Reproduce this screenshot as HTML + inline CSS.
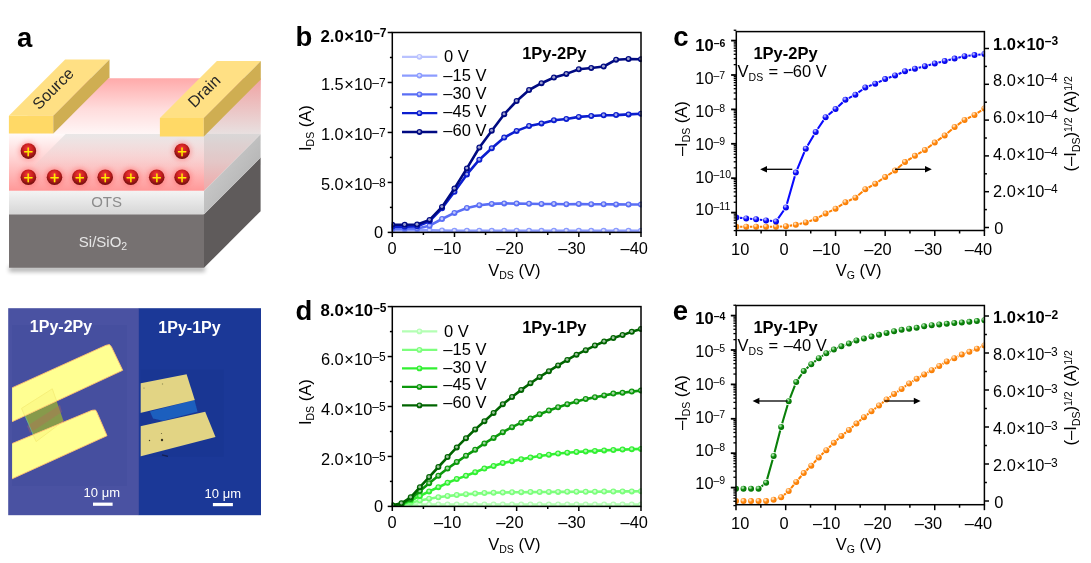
<!DOCTYPE html>
<html><head><meta charset="utf-8"><title>Figure</title>
<style>html,body{margin:0;padding:0;background:#fff;overflow:hidden}svg{display:block}</style></head>
<body>
<svg width="1091" height="563" viewBox="0 0 1091 563" font-family="'Liberation Sans', Arial, sans-serif">
<defs>
<radialGradient id="sb0" cx="0.4" cy="0.35" r="0.65" fx="0.35" fy="0.3"><stop offset="0" stop-color="#edefff"/><stop offset="0.18" stop-color="#edefff"/><stop offset="0.5" stop-color="#c3cbff"/><stop offset="1" stop-color="#a6aee5"/></radialGradient>
<radialGradient id="sb1" cx="0.4" cy="0.35" r="0.65" fx="0.35" fy="0.3"><stop offset="0" stop-color="#e2e6ff"/><stop offset="0.18" stop-color="#e2e6ff"/><stop offset="0.5" stop-color="#9daaff"/><stop offset="1" stop-color="#7e8ce5"/></radialGradient>
<radialGradient id="sb2" cx="0.4" cy="0.35" r="0.65" fx="0.35" fy="0.3"><stop offset="0" stop-color="#d5dafc"/><stop offset="0.18" stop-color="#d5dafc"/><stop offset="0.5" stop-color="#7283f6"/><stop offset="1" stop-color="#5163dc"/></radialGradient>
<radialGradient id="sb3" cx="0.4" cy="0.35" r="0.65" fx="0.35" fy="0.3"><stop offset="0" stop-color="#c2c6f3"/><stop offset="0.18" stop-color="#c2c6f3"/><stop offset="0.5" stop-color="#303fd6"/><stop offset="1" stop-color="#0a1bba"/></radialGradient>
<radialGradient id="sb4" cx="0.4" cy="0.35" r="0.65" fx="0.35" fy="0.3"><stop offset="0" stop-color="#bfc1df"/><stop offset="0.18" stop-color="#bfc1df"/><stop offset="0.5" stop-color="#262e94"/><stop offset="1" stop-color="#000975"/></radialGradient>
<radialGradient id="sg0" cx="0.4" cy="0.35" r="0.65" fx="0.35" fy="0.3"><stop offset="0" stop-color="#ecffec"/><stop offset="0.18" stop-color="#ecffec"/><stop offset="0.5" stop-color="#bfffbf"/><stop offset="1" stop-color="#a2e5a2"/></radialGradient>
<radialGradient id="sg1" cx="0.4" cy="0.35" r="0.65" fx="0.35" fy="0.3"><stop offset="0" stop-color="#deffde"/><stop offset="0.18" stop-color="#deffde"/><stop offset="0.5" stop-color="#90ff90"/><stop offset="1" stop-color="#70e570"/></radialGradient>
<radialGradient id="sg2" cx="0.4" cy="0.35" r="0.65" fx="0.35" fy="0.3"><stop offset="0" stop-color="#cbfbcb"/><stop offset="0.18" stop-color="#cbfbcb"/><stop offset="0.5" stop-color="#50f250"/><stop offset="1" stop-color="#2dd82d"/></radialGradient>
<radialGradient id="sg3" cx="0.4" cy="0.35" r="0.65" fx="0.35" fy="0.3"><stop offset="0" stop-color="#c2e5c2"/><stop offset="0.18" stop-color="#c2e5c2"/><stop offset="0.5" stop-color="#30a730"/><stop offset="1" stop-color="#0a880a"/></radialGradient>
<radialGradient id="sg4" cx="0.4" cy="0.35" r="0.65" fx="0.35" fy="0.3"><stop offset="0" stop-color="#bfd8bf"/><stop offset="0.18" stop-color="#bfd8bf"/><stop offset="0.5" stop-color="#267b26"/><stop offset="1" stop-color="#005a00"/></radialGradient>
<radialGradient id="sBlue" cx="0.4" cy="0.35" r="0.65" fx="0.35" fy="0.3"><stop offset="0" stop-color="#a8a8ff"/><stop offset="0.18" stop-color="#a8a8ff"/><stop offset="0.5" stop-color="#1414ff"/><stop offset="1" stop-color="#0000dc"/></radialGradient>
<radialGradient id="sOrange" cx="0.4" cy="0.35" r="0.65" fx="0.35" fy="0.3"><stop offset="0" stop-color="#ffdcb4"/><stop offset="0.18" stop-color="#ffdcb4"/><stop offset="0.5" stop-color="#ff8a14"/><stop offset="1" stop-color="#f57a00"/></radialGradient>
<radialGradient id="sGreen" cx="0.4" cy="0.35" r="0.65" fx="0.35" fy="0.3"><stop offset="0" stop-color="#a0e0a0"/><stop offset="0.18" stop-color="#a0e0a0"/><stop offset="0.5" stop-color="#128a12"/><stop offset="1" stop-color="#007000"/></radialGradient>

<radialGradient id="ball" cx="0.5" cy="0.4" r="0.6" fx="0.45" fy="0.3">
 <stop offset="0" stop-color="#f03a3a"/><stop offset="0.55" stop-color="#c81e1e"/><stop offset="1" stop-color="#6e0e0e"/>
</radialGradient>
<linearGradient id="pinkTop" x1="0" y1="0" x2="0" y2="1">
 <stop offset="0" stop-color="#ffaaaa"/><stop offset="0.55" stop-color="#ffdcdc"/><stop offset="1" stop-color="#fff6f6"/>
</linearGradient>
<linearGradient id="pinkFront" x1="0" y1="0" x2="0" y2="1">
 <stop offset="0" stop-color="#fffafa"/><stop offset="0.4" stop-color="#ffd6d6"/><stop offset="0.75" stop-color="#ffb2b2"/><stop offset="1" stop-color="#ff9898"/>
</linearGradient>
<linearGradient id="pinkSide" x1="0" y1="0" x2="0" y2="1">
 <stop offset="0" stop-color="#f0a8a8"/><stop offset="0.5" stop-color="#e8c4c4"/><stop offset="1" stop-color="#e6b8b8"/>
</linearGradient>
<linearGradient id="otsFront" x1="0" y1="0" x2="0" y2="1">
 <stop offset="0" stop-color="#f4f4f4"/><stop offset="1" stop-color="#d6d6d6"/>
</linearGradient>
<linearGradient id="otsSide" x1="0" y1="0" x2="1" y2="1">
 <stop offset="0" stop-color="#d6d6d6"/><stop offset="1" stop-color="#a8a8a8"/>
</linearGradient>
<linearGradient id="otsTop" x1="0" y1="0" x2="0" y2="1">
 <stop offset="0" stop-color="#e4e2e2"/><stop offset="1" stop-color="#f4dede"/>
</linearGradient>
<linearGradient id="otsThru" x1="0" y1="0" x2="0" y2="1">
 <stop offset="0" stop-color="#e9e7e7" stop-opacity="1"/><stop offset="0.4" stop-color="#eed0d0" stop-opacity="0.45"/><stop offset="0.75" stop-color="#f0c0c0" stop-opacity="0"/><stop offset="1" stop-color="#f0c0c0" stop-opacity="0"/>
</linearGradient>
<linearGradient id="sideUp" gradientUnits="userSpaceOnUse" x1="0" y1="78" x2="0" y2="134">
 <stop offset="0" stop-color="#f0a2a2"/><stop offset="1" stop-color="#e8e0e0"/>
</linearGradient>
<linearGradient id="sideLow" gradientUnits="userSpaceOnUse" x1="0" y1="134" x2="0" y2="191">
 <stop offset="0" stop-color="#d9d7d7"/><stop offset="0.5" stop-color="#e4c6c6"/><stop offset="1" stop-color="#f0a8a8"/>
</linearGradient>
<filter id="blur1" x="-20%" y="-20%" width="140%" height="140%"><feGaussianBlur stdDeviation="0.6"/></filter>
<filter id="blur2" x="-50%" y="-50%" width="200%" height="200%"><feGaussianBlur stdDeviation="2.5"/></filter>
<filter id="blur3" x="-20%" y="-50%" width="140%" height="300%"><feGaussianBlur stdDeviation="2"/></filter>
<filter id="blurp" x="-10%" y="-10%" width="120%" height="120%"><feGaussianBlur stdDeviation="0.7"/></filter>

</defs>
<rect width="1091" height="563" fill="#fff"/>
<rect x="9" y="266" width="196" height="6" fill="#000" opacity="0.28" filter="url(#blur3)"/>
<polygon points="9.0,214.2 204.0,214.2 204.0,267.8 9.0,267.8" fill="#767171" />
<polygon points="204.0,214.2 260.6,157.6 260.6,211.2 204.0,267.8" fill="#5f5b5b" />
<polygon points="9.0,190.7 204.0,190.7 204.0,214.2 9.0,214.2" fill="url(#otsFront)" />
<polygon points="204.0,190.7 260.6,134.1 260.6,157.6 204.0,214.2" fill="url(#otsSide)" />
<polygon points="65.6,78.4 260.6,78.4 260.6,134.1 65.6,134.1" fill="url(#pinkTop)" />
<polygon points="9.0,133.9 64.6,78.4 260.6,78.4 204.0,133.9" fill="url(#pinkTop)" />
<polygon points="9.0,133.9 204.0,133.9 204.0,190.7 9.0,190.7" fill="url(#pinkFront)" />
<polygon points="9.0,190.7 65.6,134.1 204.0,134.1 204.0,190.7" fill="url(#otsThru)" />
<polygon points="204.0,133.9 260.6,78.4 260.6,134.4 204.0,134.4" fill="url(#sideUp)" />
<polygon points="204.0,133.9 260.6,134.1 260.6,134.1 204.0,190.7" fill="url(#sideLow)" />
<polygon points="8.9,115.8 65.1,59.6 109.5,59.6 53.3,115.8" fill="#ffe084" />
<polygon points="8.9,115.8 53.3,115.8 53.3,133.5 8.9,133.5" fill="#ffd966" />
<polygon points="53.3,115.8 109.5,59.6 109.5,77.3 53.3,133.5" fill="#cfae52" />
<polygon points="159.9,118.1 216.9,61.1 260.8,61.1 203.8,118.1" fill="#ffe084" />
<polygon points="159.9,118.1 203.8,118.1 203.8,136.5 159.9,136.5" fill="#ffd966" />
<polygon points="203.8,118.1 260.8,61.1 260.8,79.5 203.8,136.5" fill="#cfae52" />
<text transform="translate(56.9,92.5) rotate(-45)" font-size="16" text-anchor="middle" fill="#262626">Source</text>
<text transform="translate(207.9,95) rotate(-45)" font-size="16" text-anchor="middle" fill="#262626">Drain</text>
<circle cx="28.4" cy="151.1" r="9.5" fill="#ff5050" opacity="0.38" filter="url(#blur2)"/>
<circle cx="182.1" cy="151.2" r="9.5" fill="#ff5050" opacity="0.38" filter="url(#blur2)"/>
<circle cx="28.4" cy="177.2" r="9.5" fill="#ff5050" opacity="0.38" filter="url(#blur2)"/>
<circle cx="54.5" cy="177.2" r="9.5" fill="#ff5050" opacity="0.38" filter="url(#blur2)"/>
<circle cx="79.8" cy="177.2" r="9.5" fill="#ff5050" opacity="0.38" filter="url(#blur2)"/>
<circle cx="105.2" cy="177.2" r="9.5" fill="#ff5050" opacity="0.38" filter="url(#blur2)"/>
<circle cx="130.8" cy="177.2" r="9.5" fill="#ff5050" opacity="0.38" filter="url(#blur2)"/>
<circle cx="156.7" cy="177.2" r="9.5" fill="#ff5050" opacity="0.38" filter="url(#blur2)"/>
<circle cx="182.1" cy="177.2" r="9.5" fill="#ff5050" opacity="0.38" filter="url(#blur2)"/>
<circle cx="28.4" cy="151.1" r="7.8" fill="url(#ball)"/>
<text x="28.4" y="156.5" font-size="16.5" text-anchor="middle" fill="#ffee00" stroke="#ffee00" stroke-width="0.25">+</text>
<circle cx="182.1" cy="151.2" r="7.8" fill="url(#ball)"/>
<text x="182.1" y="156.6" font-size="16.5" text-anchor="middle" fill="#ffee00" stroke="#ffee00" stroke-width="0.25">+</text>
<circle cx="28.4" cy="177.2" r="7.8" fill="url(#ball)"/>
<text x="28.4" y="182.6" font-size="16.5" text-anchor="middle" fill="#ffee00" stroke="#ffee00" stroke-width="0.25">+</text>
<circle cx="54.5" cy="177.2" r="7.8" fill="url(#ball)"/>
<text x="54.5" y="182.6" font-size="16.5" text-anchor="middle" fill="#ffee00" stroke="#ffee00" stroke-width="0.25">+</text>
<circle cx="79.8" cy="177.2" r="7.8" fill="url(#ball)"/>
<text x="79.8" y="182.6" font-size="16.5" text-anchor="middle" fill="#ffee00" stroke="#ffee00" stroke-width="0.25">+</text>
<circle cx="105.2" cy="177.2" r="7.8" fill="url(#ball)"/>
<text x="105.2" y="182.6" font-size="16.5" text-anchor="middle" fill="#ffee00" stroke="#ffee00" stroke-width="0.25">+</text>
<circle cx="130.8" cy="177.2" r="7.8" fill="url(#ball)"/>
<text x="130.8" y="182.6" font-size="16.5" text-anchor="middle" fill="#ffee00" stroke="#ffee00" stroke-width="0.25">+</text>
<circle cx="156.7" cy="177.2" r="7.8" fill="url(#ball)"/>
<text x="156.7" y="182.6" font-size="16.5" text-anchor="middle" fill="#ffee00" stroke="#ffee00" stroke-width="0.25">+</text>
<circle cx="182.1" cy="177.2" r="7.8" fill="url(#ball)"/>
<text x="182.1" y="182.6" font-size="16.5" text-anchor="middle" fill="#ffee00" stroke="#ffee00" stroke-width="0.25">+</text>
<text x="106.60" y="207.30" font-size="15" text-anchor="middle" font-weight="normal" fill="#8c8c8c" >OTS</text>
<text x="103.00" y="246.50" font-size="15" text-anchor="middle" font-weight="normal" fill="#e6e6e6" >Si/SiO<tspan font-size="10.5" dy="3">2</tspan><tspan dy="-3" font-size="1">&#8203;</tspan></text>
<g>
<rect x="8.2" y="308.2" width="130.8" height="207" fill="#4a52a2"/>
<rect x="12" y="325" width="115" height="161" fill="#454e9d" opacity="0.6"/>
<rect x="138.8" y="308.2" width="122.2" height="207" fill="#1b3897"/>
<rect x="140.7" y="369.8" width="83" height="87" fill="#18338c" opacity="0.35"/>
<clipPath id="cpL"><rect x="12.1" y="308.2" width="126.7" height="207"/></clipPath>
<g clip-path="url(#cpL)" filter="url(#blurp)">
<polygon points="21.5,408.4 52.3,388.8 63.5,421.0 36.1,441.6" fill="#879a4c" />
<polygon points="27.0,426.0 60.0,405.0 62.0,412.0 30.0,433.0" fill="#b86a5a" opacity="0.35"/>
<line x1="23" y1="411" x2="35" y2="439" stroke="#60c0a0" stroke-width="1" opacity="0.7"/>
<line x1="36.1" y1="441.6" x2="63.5" y2="421" stroke="#e07060" stroke-width="1" opacity="0.7"/>
<polygon points="5.0,391.0 106.0,345.3 109.5,344.6 111.5,347.0 122.7,370.3 5.0,425.0" fill="#ffff92" stroke="#ffc070" stroke-width="0.9"/>
<polygon points="5.0,446.5 92.0,410.3 95.5,410.0 97.0,412.5 107.0,435.7 5.0,482.0" fill="#ffff92" stroke="#ffc070" stroke-width="0.9"/>
<clipPath id="cpE"><polygon points="5,391 106,345.3 122.7,370.3 5,425"/><polygon points="5,446.5 95.5,410 107,435.7 5,482"/></clipPath>
<g clip-path="url(#cpE)">
<polygon points="21.5,408.4 52.3,388.8 63.5,421.0 36.1,441.6" fill="#f4ec70" opacity="0.28" stroke="#e0c838" stroke-width="1.0"/>
</g>
</g>
<clipPath id="cpR"><rect x="140.7" y="308.2" width="120.3" height="207"/></clipPath>
<g clip-path="url(#cpR)" filter="url(#blurp)">
<polygon points="150.0,411.5 194.5,400.0 197.5,411.8 163.0,420.8 153.0,418.5" fill="#1b5fbe" />
<polygon points="135.0,384.5 186.6,374.3 194.8,400.0 135.0,414.2" fill="#e2d484" />
<polygon points="135.0,427.5 205.2,411.8 215.5,437.1 135.0,457.8" fill="#e2d484" />
<circle cx="162" cy="440" r="1.2" fill="#3a3420"/><circle cx="149.5" cy="440.5" r="0.7" fill="#4a4428"/><circle cx="161.5" cy="433.5" r="0.6" fill="#6a6438"/><circle cx="144" cy="388" r="0.6" fill="#8a8448"/><circle cx="162.5" cy="384" r="0.7" fill="#9a9458"/>
<line x1="162" y1="454.8" x2="168" y2="456.3" stroke="#142050" stroke-width="1.2"/>
</g>
<text x="61.00" y="331.80" font-size="16" text-anchor="middle" font-weight="bold" fill="#fff" >1Py-2Py</text>
<text x="189.50" y="332.50" font-size="16" text-anchor="middle" font-weight="bold" fill="#fff" >1Py-1Py</text>
<text x="101.80" y="497.30" font-size="13" text-anchor="middle" font-weight="normal" fill="#fff" >10 μm</text>
<text x="222.80" y="497.60" font-size="13" text-anchor="middle" font-weight="normal" fill="#fff" >10 μm</text>
<rect x="93" y="502.6" width="19.6" height="3.2" fill="#fff"/>
<rect x="212.9" y="503" width="20" height="3.2" fill="#fff"/>
</g>
<text x="17.00" y="46.60" font-size="27.5" text-anchor="start" font-weight="bold" fill="#000" >a</text>
<text x="295.50" y="46.20" font-size="27.5" text-anchor="start" font-weight="bold" fill="#000" >b</text>
<text x="673.30" y="46.40" font-size="27.5" text-anchor="start" font-weight="bold" fill="#000" >c</text>
<text x="295.50" y="320.20" font-size="27.5" text-anchor="start" font-weight="bold" fill="#000" >d</text>
<text x="672.80" y="320.20" font-size="27.5" text-anchor="start" font-weight="bold" fill="#000" >e</text>
<clipPath id="clip32"><rect x="391.8" y="32.5" width="249.89999999999998" height="200.6"/></clipPath>
<g clip-path="url(#clip32)">
<polyline fill="none" stroke="#b9c2ff" stroke-width="2.6" stroke-linejoin="round" stroke-linecap="round" points="392.30,231.20 404.74,231.20 417.17,231.20 429.61,231.20 442.04,231.20 454.48,231.20 466.91,231.20 479.35,231.20 491.78,231.20 504.22,231.20 516.65,231.20 529.09,231.20 541.52,231.20 553.96,231.20 566.39,231.20 578.83,231.20 591.26,231.20 603.69,231.20 616.13,231.20 628.57,231.20 641.00,231.20"/>
<circle cx="392.30" cy="231.20" r="3.0" fill="#b9c2ff"/>
<circle cx="392.10" cy="230.90" r="1.45" fill="#e4e7ff"/>
<circle cx="404.74" cy="231.20" r="3.0" fill="#b9c2ff"/>
<circle cx="404.54" cy="230.90" r="1.45" fill="#e4e7ff"/>
<circle cx="417.17" cy="231.20" r="3.0" fill="#b9c2ff"/>
<circle cx="416.97" cy="230.90" r="1.45" fill="#e4e7ff"/>
<circle cx="429.61" cy="231.20" r="3.0" fill="#b9c2ff"/>
<circle cx="429.41" cy="230.90" r="1.45" fill="#e4e7ff"/>
<circle cx="442.04" cy="231.20" r="3.0" fill="#b9c2ff"/>
<circle cx="441.84" cy="230.90" r="1.45" fill="#e4e7ff"/>
<circle cx="454.48" cy="231.20" r="3.0" fill="#b9c2ff"/>
<circle cx="454.28" cy="230.90" r="1.45" fill="#e4e7ff"/>
<circle cx="466.91" cy="231.20" r="3.0" fill="#b9c2ff"/>
<circle cx="466.71" cy="230.90" r="1.45" fill="#e4e7ff"/>
<circle cx="479.35" cy="231.20" r="3.0" fill="#b9c2ff"/>
<circle cx="479.15" cy="230.90" r="1.45" fill="#e4e7ff"/>
<circle cx="491.78" cy="231.20" r="3.0" fill="#b9c2ff"/>
<circle cx="491.58" cy="230.90" r="1.45" fill="#e4e7ff"/>
<circle cx="504.22" cy="231.20" r="3.0" fill="#b9c2ff"/>
<circle cx="504.02" cy="230.90" r="1.45" fill="#e4e7ff"/>
<circle cx="516.65" cy="231.20" r="3.0" fill="#b9c2ff"/>
<circle cx="516.45" cy="230.90" r="1.45" fill="#e4e7ff"/>
<circle cx="529.09" cy="231.20" r="3.0" fill="#b9c2ff"/>
<circle cx="528.88" cy="230.90" r="1.45" fill="#e4e7ff"/>
<circle cx="541.52" cy="231.20" r="3.0" fill="#b9c2ff"/>
<circle cx="541.32" cy="230.90" r="1.45" fill="#e4e7ff"/>
<circle cx="553.96" cy="231.20" r="3.0" fill="#b9c2ff"/>
<circle cx="553.75" cy="230.90" r="1.45" fill="#e4e7ff"/>
<circle cx="566.39" cy="231.20" r="3.0" fill="#b9c2ff"/>
<circle cx="566.19" cy="230.90" r="1.45" fill="#e4e7ff"/>
<circle cx="578.83" cy="231.20" r="3.0" fill="#b9c2ff"/>
<circle cx="578.62" cy="230.90" r="1.45" fill="#e4e7ff"/>
<circle cx="591.26" cy="231.20" r="3.0" fill="#b9c2ff"/>
<circle cx="591.06" cy="230.90" r="1.45" fill="#e4e7ff"/>
<circle cx="603.69" cy="231.20" r="3.0" fill="#b9c2ff"/>
<circle cx="603.49" cy="230.90" r="1.45" fill="#e4e7ff"/>
<circle cx="616.13" cy="231.20" r="3.0" fill="#b9c2ff"/>
<circle cx="615.93" cy="230.90" r="1.45" fill="#e4e7ff"/>
<circle cx="628.57" cy="231.20" r="3.0" fill="#b9c2ff"/>
<circle cx="628.37" cy="230.90" r="1.45" fill="#e4e7ff"/>
<circle cx="641.00" cy="231.20" r="3.0" fill="#b9c2ff"/>
<circle cx="640.80" cy="230.90" r="1.45" fill="#e4e7ff"/>
<polyline fill="none" stroke="#8c9cff" stroke-width="2.6" stroke-linejoin="round" stroke-linecap="round" points="392.30,229.80 404.74,229.80 417.17,229.80 429.61,230.20 442.04,230.50 454.48,230.70 466.91,230.80 479.35,230.80 491.78,230.80 504.22,230.80 516.65,230.80 529.09,230.80 541.52,230.80 553.96,230.80 566.39,230.80 578.83,230.80 591.26,230.80 603.69,230.80 616.13,230.80 628.57,230.80 641.00,230.80"/>
<circle cx="392.30" cy="229.80" r="3.0" fill="#8c9cff"/>
<circle cx="392.10" cy="229.50" r="1.45" fill="#d3d9ff"/>
<circle cx="404.74" cy="229.80" r="3.0" fill="#8c9cff"/>
<circle cx="404.54" cy="229.50" r="1.45" fill="#d3d9ff"/>
<circle cx="417.17" cy="229.80" r="3.0" fill="#8c9cff"/>
<circle cx="416.97" cy="229.50" r="1.45" fill="#d3d9ff"/>
<circle cx="429.61" cy="230.20" r="3.0" fill="#8c9cff"/>
<circle cx="429.41" cy="229.90" r="1.45" fill="#d3d9ff"/>
<circle cx="442.04" cy="230.50" r="3.0" fill="#8c9cff"/>
<circle cx="441.84" cy="230.20" r="1.45" fill="#d3d9ff"/>
<circle cx="454.48" cy="230.70" r="3.0" fill="#8c9cff"/>
<circle cx="454.28" cy="230.40" r="1.45" fill="#d3d9ff"/>
<circle cx="466.91" cy="230.80" r="3.0" fill="#8c9cff"/>
<circle cx="466.71" cy="230.50" r="1.45" fill="#d3d9ff"/>
<circle cx="479.35" cy="230.80" r="3.0" fill="#8c9cff"/>
<circle cx="479.15" cy="230.50" r="1.45" fill="#d3d9ff"/>
<circle cx="491.78" cy="230.80" r="3.0" fill="#8c9cff"/>
<circle cx="491.58" cy="230.50" r="1.45" fill="#d3d9ff"/>
<circle cx="504.22" cy="230.80" r="3.0" fill="#8c9cff"/>
<circle cx="504.02" cy="230.50" r="1.45" fill="#d3d9ff"/>
<circle cx="516.65" cy="230.80" r="3.0" fill="#8c9cff"/>
<circle cx="516.45" cy="230.50" r="1.45" fill="#d3d9ff"/>
<circle cx="529.09" cy="230.80" r="3.0" fill="#8c9cff"/>
<circle cx="528.88" cy="230.50" r="1.45" fill="#d3d9ff"/>
<circle cx="541.52" cy="230.80" r="3.0" fill="#8c9cff"/>
<circle cx="541.32" cy="230.50" r="1.45" fill="#d3d9ff"/>
<circle cx="553.96" cy="230.80" r="3.0" fill="#8c9cff"/>
<circle cx="553.75" cy="230.50" r="1.45" fill="#d3d9ff"/>
<circle cx="566.39" cy="230.80" r="3.0" fill="#8c9cff"/>
<circle cx="566.19" cy="230.50" r="1.45" fill="#d3d9ff"/>
<circle cx="578.83" cy="230.80" r="3.0" fill="#8c9cff"/>
<circle cx="578.62" cy="230.50" r="1.45" fill="#d3d9ff"/>
<circle cx="591.26" cy="230.80" r="3.0" fill="#8c9cff"/>
<circle cx="591.06" cy="230.50" r="1.45" fill="#d3d9ff"/>
<circle cx="603.69" cy="230.80" r="3.0" fill="#8c9cff"/>
<circle cx="603.49" cy="230.50" r="1.45" fill="#d3d9ff"/>
<circle cx="616.13" cy="230.80" r="3.0" fill="#8c9cff"/>
<circle cx="615.93" cy="230.50" r="1.45" fill="#d3d9ff"/>
<circle cx="628.57" cy="230.80" r="3.0" fill="#8c9cff"/>
<circle cx="628.37" cy="230.50" r="1.45" fill="#d3d9ff"/>
<circle cx="641.00" cy="230.80" r="3.0" fill="#8c9cff"/>
<circle cx="640.80" cy="230.50" r="1.45" fill="#d3d9ff"/>
<polyline fill="none" stroke="#5a6ef5" stroke-width="2.6" stroke-linejoin="round" stroke-linecap="round" points="392.30,228.50 404.74,228.50 417.17,228.50 429.61,225.70 442.04,219.00 454.48,212.90 466.91,208.00 479.35,205.20 491.78,203.90 504.22,203.40 516.65,203.60 529.09,203.80 541.52,204.00 553.96,204.00 566.39,204.30 578.83,204.00 591.26,204.20 603.69,204.30 616.13,204.40 628.57,204.50 641.00,204.50"/>
<circle cx="392.30" cy="228.50" r="3.0" fill="#5a6ef5"/>
<circle cx="392.10" cy="228.20" r="1.45" fill="#c0c7fb"/>
<circle cx="404.74" cy="228.50" r="3.0" fill="#5a6ef5"/>
<circle cx="404.54" cy="228.20" r="1.45" fill="#c0c7fb"/>
<circle cx="417.17" cy="228.50" r="3.0" fill="#5a6ef5"/>
<circle cx="416.97" cy="228.20" r="1.45" fill="#c0c7fb"/>
<circle cx="429.61" cy="225.70" r="3.0" fill="#5a6ef5"/>
<circle cx="429.41" cy="225.40" r="1.45" fill="#c0c7fb"/>
<circle cx="442.04" cy="219.00" r="3.0" fill="#5a6ef5"/>
<circle cx="441.84" cy="218.70" r="1.45" fill="#c0c7fb"/>
<circle cx="454.48" cy="212.90" r="3.0" fill="#5a6ef5"/>
<circle cx="454.28" cy="212.60" r="1.45" fill="#c0c7fb"/>
<circle cx="466.91" cy="208.00" r="3.0" fill="#5a6ef5"/>
<circle cx="466.71" cy="207.70" r="1.45" fill="#c0c7fb"/>
<circle cx="479.35" cy="205.20" r="3.0" fill="#5a6ef5"/>
<circle cx="479.15" cy="204.90" r="1.45" fill="#c0c7fb"/>
<circle cx="491.78" cy="203.90" r="3.0" fill="#5a6ef5"/>
<circle cx="491.58" cy="203.60" r="1.45" fill="#c0c7fb"/>
<circle cx="504.22" cy="203.40" r="3.0" fill="#5a6ef5"/>
<circle cx="504.02" cy="203.10" r="1.45" fill="#c0c7fb"/>
<circle cx="516.65" cy="203.60" r="3.0" fill="#5a6ef5"/>
<circle cx="516.45" cy="203.30" r="1.45" fill="#c0c7fb"/>
<circle cx="529.09" cy="203.80" r="3.0" fill="#5a6ef5"/>
<circle cx="528.88" cy="203.50" r="1.45" fill="#c0c7fb"/>
<circle cx="541.52" cy="204.00" r="3.0" fill="#5a6ef5"/>
<circle cx="541.32" cy="203.70" r="1.45" fill="#c0c7fb"/>
<circle cx="553.96" cy="204.00" r="3.0" fill="#5a6ef5"/>
<circle cx="553.75" cy="203.70" r="1.45" fill="#c0c7fb"/>
<circle cx="566.39" cy="204.30" r="3.0" fill="#5a6ef5"/>
<circle cx="566.19" cy="204.00" r="1.45" fill="#c0c7fb"/>
<circle cx="578.83" cy="204.00" r="3.0" fill="#5a6ef5"/>
<circle cx="578.62" cy="203.70" r="1.45" fill="#c0c7fb"/>
<circle cx="591.26" cy="204.20" r="3.0" fill="#5a6ef5"/>
<circle cx="591.06" cy="203.90" r="1.45" fill="#c0c7fb"/>
<circle cx="603.69" cy="204.30" r="3.0" fill="#5a6ef5"/>
<circle cx="603.49" cy="204.00" r="1.45" fill="#c0c7fb"/>
<circle cx="616.13" cy="204.40" r="3.0" fill="#5a6ef5"/>
<circle cx="615.93" cy="204.10" r="1.45" fill="#c0c7fb"/>
<circle cx="628.57" cy="204.50" r="3.0" fill="#5a6ef5"/>
<circle cx="628.37" cy="204.20" r="1.45" fill="#c0c7fb"/>
<circle cx="641.00" cy="204.50" r="3.0" fill="#5a6ef5"/>
<circle cx="640.80" cy="204.20" r="1.45" fill="#c0c7fb"/>
<polyline fill="none" stroke="#0c1ecf" stroke-width="2.6" stroke-linejoin="round" stroke-linecap="round" points="392.30,226.70 404.74,226.70 417.17,226.30 429.61,221.20 442.04,208.30 454.48,191.80 466.91,174.40 479.35,159.70 491.78,148.20 504.22,137.50 516.65,130.90 529.09,126.10 541.52,123.40 553.96,120.20 566.39,119.00 578.83,116.90 591.26,116.00 603.69,115.30 616.13,115.10 628.57,114.40 641.00,113.80"/>
<circle cx="392.30" cy="226.70" r="3.0" fill="#0c1ecf"/>
<circle cx="392.10" cy="226.40" r="1.45" fill="#a2a9ec"/>
<circle cx="404.74" cy="226.70" r="3.0" fill="#0c1ecf"/>
<circle cx="404.54" cy="226.40" r="1.45" fill="#a2a9ec"/>
<circle cx="417.17" cy="226.30" r="3.0" fill="#0c1ecf"/>
<circle cx="416.97" cy="226.00" r="1.45" fill="#a2a9ec"/>
<circle cx="429.61" cy="221.20" r="3.0" fill="#0c1ecf"/>
<circle cx="429.41" cy="220.90" r="1.45" fill="#a2a9ec"/>
<circle cx="442.04" cy="208.30" r="3.0" fill="#0c1ecf"/>
<circle cx="441.84" cy="208.00" r="1.45" fill="#a2a9ec"/>
<circle cx="454.48" cy="191.80" r="3.0" fill="#0c1ecf"/>
<circle cx="454.28" cy="191.50" r="1.45" fill="#a2a9ec"/>
<circle cx="466.91" cy="174.40" r="3.0" fill="#0c1ecf"/>
<circle cx="466.71" cy="174.10" r="1.45" fill="#a2a9ec"/>
<circle cx="479.35" cy="159.70" r="3.0" fill="#0c1ecf"/>
<circle cx="479.15" cy="159.40" r="1.45" fill="#a2a9ec"/>
<circle cx="491.78" cy="148.20" r="3.0" fill="#0c1ecf"/>
<circle cx="491.58" cy="147.90" r="1.45" fill="#a2a9ec"/>
<circle cx="504.22" cy="137.50" r="3.0" fill="#0c1ecf"/>
<circle cx="504.02" cy="137.20" r="1.45" fill="#a2a9ec"/>
<circle cx="516.65" cy="130.90" r="3.0" fill="#0c1ecf"/>
<circle cx="516.45" cy="130.60" r="1.45" fill="#a2a9ec"/>
<circle cx="529.09" cy="126.10" r="3.0" fill="#0c1ecf"/>
<circle cx="528.88" cy="125.80" r="1.45" fill="#a2a9ec"/>
<circle cx="541.52" cy="123.40" r="3.0" fill="#0c1ecf"/>
<circle cx="541.32" cy="123.10" r="1.45" fill="#a2a9ec"/>
<circle cx="553.96" cy="120.20" r="3.0" fill="#0c1ecf"/>
<circle cx="553.75" cy="119.90" r="1.45" fill="#a2a9ec"/>
<circle cx="566.39" cy="119.00" r="3.0" fill="#0c1ecf"/>
<circle cx="566.19" cy="118.70" r="1.45" fill="#a2a9ec"/>
<circle cx="578.83" cy="116.90" r="3.0" fill="#0c1ecf"/>
<circle cx="578.62" cy="116.60" r="1.45" fill="#a2a9ec"/>
<circle cx="591.26" cy="116.00" r="3.0" fill="#0c1ecf"/>
<circle cx="591.06" cy="115.70" r="1.45" fill="#a2a9ec"/>
<circle cx="603.69" cy="115.30" r="3.0" fill="#0c1ecf"/>
<circle cx="603.49" cy="115.00" r="1.45" fill="#a2a9ec"/>
<circle cx="616.13" cy="115.10" r="3.0" fill="#0c1ecf"/>
<circle cx="615.93" cy="114.80" r="1.45" fill="#a2a9ec"/>
<circle cx="628.57" cy="114.40" r="3.0" fill="#0c1ecf"/>
<circle cx="628.37" cy="114.10" r="1.45" fill="#a2a9ec"/>
<circle cx="641.00" cy="113.80" r="3.0" fill="#0c1ecf"/>
<circle cx="640.80" cy="113.50" r="1.45" fill="#a2a9ec"/>
<polyline fill="none" stroke="#000a82" stroke-width="2.6" stroke-linejoin="round" stroke-linecap="round" points="392.30,224.80 404.74,224.80 417.17,224.50 429.61,219.90 442.04,206.90 454.48,188.50 466.91,168.40 479.35,147.50 491.78,130.70 504.22,114.20 516.65,101.00 529.09,90.00 541.52,83.20 553.96,77.50 566.39,73.90 578.83,69.30 591.26,68.00 603.69,66.50 616.13,59.70 628.57,59.00 641.00,59.20"/>
<circle cx="392.30" cy="224.80" r="3.0" fill="#000a82"/>
<circle cx="392.10" cy="224.50" r="1.45" fill="#9ea1cf"/>
<circle cx="404.74" cy="224.80" r="3.0" fill="#000a82"/>
<circle cx="404.54" cy="224.50" r="1.45" fill="#9ea1cf"/>
<circle cx="417.17" cy="224.50" r="3.0" fill="#000a82"/>
<circle cx="416.97" cy="224.20" r="1.45" fill="#9ea1cf"/>
<circle cx="429.61" cy="219.90" r="3.0" fill="#000a82"/>
<circle cx="429.41" cy="219.60" r="1.45" fill="#9ea1cf"/>
<circle cx="442.04" cy="206.90" r="3.0" fill="#000a82"/>
<circle cx="441.84" cy="206.60" r="1.45" fill="#9ea1cf"/>
<circle cx="454.48" cy="188.50" r="3.0" fill="#000a82"/>
<circle cx="454.28" cy="188.20" r="1.45" fill="#9ea1cf"/>
<circle cx="466.91" cy="168.40" r="3.0" fill="#000a82"/>
<circle cx="466.71" cy="168.10" r="1.45" fill="#9ea1cf"/>
<circle cx="479.35" cy="147.50" r="3.0" fill="#000a82"/>
<circle cx="479.15" cy="147.20" r="1.45" fill="#9ea1cf"/>
<circle cx="491.78" cy="130.70" r="3.0" fill="#000a82"/>
<circle cx="491.58" cy="130.40" r="1.45" fill="#9ea1cf"/>
<circle cx="504.22" cy="114.20" r="3.0" fill="#000a82"/>
<circle cx="504.02" cy="113.90" r="1.45" fill="#9ea1cf"/>
<circle cx="516.65" cy="101.00" r="3.0" fill="#000a82"/>
<circle cx="516.45" cy="100.70" r="1.45" fill="#9ea1cf"/>
<circle cx="529.09" cy="90.00" r="3.0" fill="#000a82"/>
<circle cx="528.88" cy="89.70" r="1.45" fill="#9ea1cf"/>
<circle cx="541.52" cy="83.20" r="3.0" fill="#000a82"/>
<circle cx="541.32" cy="82.90" r="1.45" fill="#9ea1cf"/>
<circle cx="553.96" cy="77.50" r="3.0" fill="#000a82"/>
<circle cx="553.75" cy="77.20" r="1.45" fill="#9ea1cf"/>
<circle cx="566.39" cy="73.90" r="3.0" fill="#000a82"/>
<circle cx="566.19" cy="73.60" r="1.45" fill="#9ea1cf"/>
<circle cx="578.83" cy="69.30" r="3.0" fill="#000a82"/>
<circle cx="578.62" cy="69.00" r="1.45" fill="#9ea1cf"/>
<circle cx="591.26" cy="68.00" r="3.0" fill="#000a82"/>
<circle cx="591.06" cy="67.70" r="1.45" fill="#9ea1cf"/>
<circle cx="603.69" cy="66.50" r="3.0" fill="#000a82"/>
<circle cx="603.49" cy="66.20" r="1.45" fill="#9ea1cf"/>
<circle cx="616.13" cy="59.70" r="3.0" fill="#000a82"/>
<circle cx="615.93" cy="59.40" r="1.45" fill="#9ea1cf"/>
<circle cx="628.57" cy="59.00" r="3.0" fill="#000a82"/>
<circle cx="628.37" cy="58.70" r="1.45" fill="#9ea1cf"/>
<circle cx="641.00" cy="59.20" r="3.0" fill="#000a82"/>
<circle cx="640.80" cy="58.90" r="1.45" fill="#9ea1cf"/>
</g>
<rect x="392.3" y="32.5" width="248.7" height="199.9" fill="none" stroke="#000" stroke-width="1.5"/>
<line x1="392.30" y1="232.40" x2="392.30" y2="237.00" stroke="#000" stroke-width="1.5" />
<line x1="423.39" y1="232.40" x2="423.39" y2="235.00" stroke="#000" stroke-width="1.5" />
<line x1="454.48" y1="232.40" x2="454.48" y2="237.00" stroke="#000" stroke-width="1.5" />
<line x1="485.56" y1="232.40" x2="485.56" y2="235.00" stroke="#000" stroke-width="1.5" />
<line x1="516.65" y1="232.40" x2="516.65" y2="237.00" stroke="#000" stroke-width="1.5" />
<line x1="547.74" y1="232.40" x2="547.74" y2="235.00" stroke="#000" stroke-width="1.5" />
<line x1="578.83" y1="232.40" x2="578.83" y2="237.00" stroke="#000" stroke-width="1.5" />
<line x1="609.91" y1="232.40" x2="609.91" y2="235.00" stroke="#000" stroke-width="1.5" />
<line x1="641.00" y1="232.40" x2="641.00" y2="237.00" stroke="#000" stroke-width="1.5" />
<text x="392.00" y="254.20" font-size="16.4" text-anchor="middle" font-weight="normal" fill="#000" >0</text>
<text x="447.68" y="254.20" font-size="16.4" text-anchor="middle" font-weight="normal" fill="#000" >–10</text>
<text x="509.85" y="254.20" font-size="16.4" text-anchor="middle" font-weight="normal" fill="#000" >–20</text>
<text x="572.03" y="254.20" font-size="16.4" text-anchor="middle" font-weight="normal" fill="#000" >–30</text>
<text x="634.20" y="254.20" font-size="16.4" text-anchor="middle" font-weight="normal" fill="#000" >–40</text>
<line x1="387.70" y1="232.40" x2="392.30" y2="232.40" stroke="#000" stroke-width="1.5" />
<line x1="389.90" y1="207.41" x2="392.30" y2="207.41" stroke="#000" stroke-width="1.5" />
<text x="383.00" y="238.00" font-size="16.4" text-anchor="end" font-weight="normal" fill="#000" >0</text>
<line x1="387.70" y1="182.43" x2="392.30" y2="182.43" stroke="#000" stroke-width="1.5" />
<line x1="389.90" y1="157.44" x2="392.30" y2="157.44" stroke="#000" stroke-width="1.5" />
<text x="385.70" y="189.83" font-size="16.4" text-anchor="end" font-weight="normal" fill="#000" >5.0<tspan dx="0.4">×</tspan><tspan dx="0.4">10</tspan><tspan font-size="12" dy="-2.4">–8</tspan><tspan dy="2.4" font-size="1">&#8203;</tspan></text>
<line x1="387.70" y1="132.45" x2="392.30" y2="132.45" stroke="#000" stroke-width="1.5" />
<line x1="389.90" y1="107.46" x2="392.30" y2="107.46" stroke="#000" stroke-width="1.5" />
<text x="385.70" y="139.85" font-size="16.4" text-anchor="end" font-weight="normal" fill="#000" >1.0<tspan dx="0.4">×</tspan><tspan dx="0.4">10</tspan><tspan font-size="12" dy="-2.4">–7</tspan><tspan dy="2.4" font-size="1">&#8203;</tspan></text>
<line x1="387.70" y1="82.47" x2="392.30" y2="82.47" stroke="#000" stroke-width="1.5" />
<line x1="389.90" y1="57.49" x2="392.30" y2="57.49" stroke="#000" stroke-width="1.5" />
<text x="385.70" y="89.88" font-size="16.4" text-anchor="end" font-weight="normal" fill="#000" >1.5<tspan dx="0.4">×</tspan><tspan dx="0.4">10</tspan><tspan font-size="12" dy="-2.4">–7</tspan><tspan dy="2.4" font-size="1">&#8203;</tspan></text>
<line x1="387.70" y1="32.50" x2="392.30" y2="32.50" stroke="#000" stroke-width="1.5" />
<text x="386.50" y="42.10" font-size="16.8" text-anchor="end" font-weight="bold" fill="#000" >2.0<tspan dx="0.4">×</tspan><tspan dx="0.4">10</tspan><tspan font-size="12" dy="-4.7">–7</tspan><tspan dy="4.7" font-size="1">&#8203;</tspan></text>
<text x="514.35" y="276.10" font-size="16.5" text-anchor="middle" font-weight="normal" fill="#000" >V<tspan font-size="10.5" dy="3.2">DS</tspan><tspan dy="-3.2" font-size="1">&#8203;</tspan> (V)</text>
<text transform="translate(311.2,128.1) rotate(-90)" font-size="16.5" text-anchor="middle">I<tspan font-size="10.5" dy="3.2">DS</tspan><tspan dy="-3.2" font-size="1">&#8203;</tspan> (A)</text>
<line x1="402.00" y1="56.80" x2="437.30" y2="56.80" stroke="#b9c2ff" stroke-width="2.3" />
<circle cx="419.5" cy="56.80" r="2.9" fill="#b9c2ff"/>
<circle cx="419.3" cy="56.50" r="1.4" fill="#e4e7ff"/>
<text x="444.00" y="62.40" font-size="16.5" text-anchor="start" font-weight="normal" fill="#000" >0 V</text>
<line x1="402.00" y1="75.60" x2="437.30" y2="75.60" stroke="#8c9cff" stroke-width="2.3" />
<circle cx="419.5" cy="75.60" r="2.9" fill="#8c9cff"/>
<circle cx="419.3" cy="75.30" r="1.4" fill="#d3d9ff"/>
<text x="443.30" y="80.75" font-size="16.5" text-anchor="start" font-weight="normal" fill="#000" >–15 V</text>
<line x1="402.00" y1="94.40" x2="437.30" y2="94.40" stroke="#5a6ef5" stroke-width="2.3" />
<circle cx="419.5" cy="94.40" r="2.9" fill="#5a6ef5"/>
<circle cx="419.3" cy="94.10" r="1.4" fill="#c0c7fb"/>
<text x="443.30" y="99.10" font-size="16.5" text-anchor="start" font-weight="normal" fill="#000" >–30 V</text>
<line x1="402.00" y1="113.20" x2="437.30" y2="113.20" stroke="#0c1ecf" stroke-width="2.3" />
<circle cx="419.5" cy="113.20" r="2.9" fill="#0c1ecf"/>
<circle cx="419.3" cy="112.90" r="1.4" fill="#a2a9ec"/>
<text x="443.30" y="117.45" font-size="16.5" text-anchor="start" font-weight="normal" fill="#000" >–45 V</text>
<line x1="402.00" y1="132.00" x2="437.30" y2="132.00" stroke="#000a82" stroke-width="2.3" />
<circle cx="419.5" cy="132.00" r="2.9" fill="#000a82"/>
<circle cx="419.3" cy="131.70" r="1.4" fill="#9ea1cf"/>
<text x="443.30" y="135.80" font-size="16.5" text-anchor="start" font-weight="normal" fill="#000" >–60 V</text>
<text x="554.30" y="58.60" font-size="16.5" text-anchor="middle" font-weight="bold" fill="#000" >1Py-2Py</text>
<clipPath id="clip306"><rect x="391.8" y="306.6" width="249.89999999999998" height="200.49999999999994"/></clipPath>
<g clip-path="url(#clip306)">
<polyline fill="none" stroke="#b4ffb4" stroke-width="2.6" stroke-linejoin="round" stroke-linecap="round" points="392.30,506.00 401.51,504.60 410.72,504.60 419.93,504.60 429.14,504.60 438.36,504.60 447.57,504.60 456.78,504.60 465.99,504.60 475.20,504.60 484.41,504.60 493.62,504.60 502.83,504.60 512.04,504.60 521.26,504.60 530.47,504.60 539.68,504.60 548.89,504.60 558.10,504.60 567.31,504.60 576.52,504.60 585.73,504.60 594.94,504.60 604.16,504.60 613.37,504.60 622.58,504.60 631.79,504.60 641.00,504.60"/>
<circle cx="392.30" cy="506.00" r="3.0" fill="#b4ffb4"/>
<circle cx="392.10" cy="505.70" r="1.45" fill="#e2ffe2"/>
<circle cx="401.51" cy="504.60" r="3.0" fill="#b4ffb4"/>
<circle cx="401.31" cy="504.30" r="1.45" fill="#e2ffe2"/>
<circle cx="410.72" cy="504.60" r="3.0" fill="#b4ffb4"/>
<circle cx="410.52" cy="504.30" r="1.45" fill="#e2ffe2"/>
<circle cx="419.93" cy="504.60" r="3.0" fill="#b4ffb4"/>
<circle cx="419.73" cy="504.30" r="1.45" fill="#e2ffe2"/>
<circle cx="429.14" cy="504.60" r="3.0" fill="#b4ffb4"/>
<circle cx="428.94" cy="504.30" r="1.45" fill="#e2ffe2"/>
<circle cx="438.36" cy="504.60" r="3.0" fill="#b4ffb4"/>
<circle cx="438.16" cy="504.30" r="1.45" fill="#e2ffe2"/>
<circle cx="447.57" cy="504.60" r="3.0" fill="#b4ffb4"/>
<circle cx="447.37" cy="504.30" r="1.45" fill="#e2ffe2"/>
<circle cx="456.78" cy="504.60" r="3.0" fill="#b4ffb4"/>
<circle cx="456.58" cy="504.30" r="1.45" fill="#e2ffe2"/>
<circle cx="465.99" cy="504.60" r="3.0" fill="#b4ffb4"/>
<circle cx="465.79" cy="504.30" r="1.45" fill="#e2ffe2"/>
<circle cx="475.20" cy="504.60" r="3.0" fill="#b4ffb4"/>
<circle cx="475.00" cy="504.30" r="1.45" fill="#e2ffe2"/>
<circle cx="484.41" cy="504.60" r="3.0" fill="#b4ffb4"/>
<circle cx="484.21" cy="504.30" r="1.45" fill="#e2ffe2"/>
<circle cx="493.62" cy="504.60" r="3.0" fill="#b4ffb4"/>
<circle cx="493.42" cy="504.30" r="1.45" fill="#e2ffe2"/>
<circle cx="502.83" cy="504.60" r="3.0" fill="#b4ffb4"/>
<circle cx="502.63" cy="504.30" r="1.45" fill="#e2ffe2"/>
<circle cx="512.04" cy="504.60" r="3.0" fill="#b4ffb4"/>
<circle cx="511.84" cy="504.30" r="1.45" fill="#e2ffe2"/>
<circle cx="521.26" cy="504.60" r="3.0" fill="#b4ffb4"/>
<circle cx="521.06" cy="504.30" r="1.45" fill="#e2ffe2"/>
<circle cx="530.47" cy="504.60" r="3.0" fill="#b4ffb4"/>
<circle cx="530.27" cy="504.30" r="1.45" fill="#e2ffe2"/>
<circle cx="539.68" cy="504.60" r="3.0" fill="#b4ffb4"/>
<circle cx="539.48" cy="504.30" r="1.45" fill="#e2ffe2"/>
<circle cx="548.89" cy="504.60" r="3.0" fill="#b4ffb4"/>
<circle cx="548.69" cy="504.30" r="1.45" fill="#e2ffe2"/>
<circle cx="558.10" cy="504.60" r="3.0" fill="#b4ffb4"/>
<circle cx="557.90" cy="504.30" r="1.45" fill="#e2ffe2"/>
<circle cx="567.31" cy="504.60" r="3.0" fill="#b4ffb4"/>
<circle cx="567.11" cy="504.30" r="1.45" fill="#e2ffe2"/>
<circle cx="576.52" cy="504.60" r="3.0" fill="#b4ffb4"/>
<circle cx="576.32" cy="504.30" r="1.45" fill="#e2ffe2"/>
<circle cx="585.73" cy="504.60" r="3.0" fill="#b4ffb4"/>
<circle cx="585.53" cy="504.30" r="1.45" fill="#e2ffe2"/>
<circle cx="594.94" cy="504.60" r="3.0" fill="#b4ffb4"/>
<circle cx="594.74" cy="504.30" r="1.45" fill="#e2ffe2"/>
<circle cx="604.16" cy="504.60" r="3.0" fill="#b4ffb4"/>
<circle cx="603.96" cy="504.30" r="1.45" fill="#e2ffe2"/>
<circle cx="613.37" cy="504.60" r="3.0" fill="#b4ffb4"/>
<circle cx="613.17" cy="504.30" r="1.45" fill="#e2ffe2"/>
<circle cx="622.58" cy="504.60" r="3.0" fill="#b4ffb4"/>
<circle cx="622.38" cy="504.30" r="1.45" fill="#e2ffe2"/>
<circle cx="631.79" cy="504.60" r="3.0" fill="#b4ffb4"/>
<circle cx="631.59" cy="504.30" r="1.45" fill="#e2ffe2"/>
<circle cx="641.00" cy="504.60" r="3.0" fill="#b4ffb4"/>
<circle cx="640.80" cy="504.30" r="1.45" fill="#e2ffe2"/>
<polyline fill="none" stroke="#7dff7d" stroke-width="2.6" stroke-linejoin="round" stroke-linecap="round" points="392.30,506.00 401.51,505.00 410.72,502.80 419.93,500.60 429.14,498.70 438.36,497.30 447.57,496.00 456.78,495.10 465.99,494.20 475.20,493.60 484.41,493.10 493.62,492.70 502.83,492.50 512.04,492.30 521.26,492.20 530.47,492.10 539.68,492.00 548.89,491.95 558.10,491.90 567.31,491.85 576.52,491.80 585.73,491.80 594.94,491.70 604.16,491.60 613.37,491.50 622.58,491.40 631.79,491.40 641.00,491.30"/>
<circle cx="392.30" cy="506.00" r="3.0" fill="#7dff7d"/>
<circle cx="392.10" cy="505.70" r="1.45" fill="#cdffcd"/>
<circle cx="401.51" cy="505.00" r="3.0" fill="#7dff7d"/>
<circle cx="401.31" cy="504.70" r="1.45" fill="#cdffcd"/>
<circle cx="410.72" cy="502.80" r="3.0" fill="#7dff7d"/>
<circle cx="410.52" cy="502.50" r="1.45" fill="#cdffcd"/>
<circle cx="419.93" cy="500.60" r="3.0" fill="#7dff7d"/>
<circle cx="419.73" cy="500.30" r="1.45" fill="#cdffcd"/>
<circle cx="429.14" cy="498.70" r="3.0" fill="#7dff7d"/>
<circle cx="428.94" cy="498.40" r="1.45" fill="#cdffcd"/>
<circle cx="438.36" cy="497.30" r="3.0" fill="#7dff7d"/>
<circle cx="438.16" cy="497.00" r="1.45" fill="#cdffcd"/>
<circle cx="447.57" cy="496.00" r="3.0" fill="#7dff7d"/>
<circle cx="447.37" cy="495.70" r="1.45" fill="#cdffcd"/>
<circle cx="456.78" cy="495.10" r="3.0" fill="#7dff7d"/>
<circle cx="456.58" cy="494.80" r="1.45" fill="#cdffcd"/>
<circle cx="465.99" cy="494.20" r="3.0" fill="#7dff7d"/>
<circle cx="465.79" cy="493.90" r="1.45" fill="#cdffcd"/>
<circle cx="475.20" cy="493.60" r="3.0" fill="#7dff7d"/>
<circle cx="475.00" cy="493.30" r="1.45" fill="#cdffcd"/>
<circle cx="484.41" cy="493.10" r="3.0" fill="#7dff7d"/>
<circle cx="484.21" cy="492.80" r="1.45" fill="#cdffcd"/>
<circle cx="493.62" cy="492.70" r="3.0" fill="#7dff7d"/>
<circle cx="493.42" cy="492.40" r="1.45" fill="#cdffcd"/>
<circle cx="502.83" cy="492.50" r="3.0" fill="#7dff7d"/>
<circle cx="502.63" cy="492.20" r="1.45" fill="#cdffcd"/>
<circle cx="512.04" cy="492.30" r="3.0" fill="#7dff7d"/>
<circle cx="511.84" cy="492.00" r="1.45" fill="#cdffcd"/>
<circle cx="521.26" cy="492.20" r="3.0" fill="#7dff7d"/>
<circle cx="521.06" cy="491.90" r="1.45" fill="#cdffcd"/>
<circle cx="530.47" cy="492.10" r="3.0" fill="#7dff7d"/>
<circle cx="530.27" cy="491.80" r="1.45" fill="#cdffcd"/>
<circle cx="539.68" cy="492.00" r="3.0" fill="#7dff7d"/>
<circle cx="539.48" cy="491.70" r="1.45" fill="#cdffcd"/>
<circle cx="548.89" cy="491.95" r="3.0" fill="#7dff7d"/>
<circle cx="548.69" cy="491.65" r="1.45" fill="#cdffcd"/>
<circle cx="558.10" cy="491.90" r="3.0" fill="#7dff7d"/>
<circle cx="557.90" cy="491.60" r="1.45" fill="#cdffcd"/>
<circle cx="567.31" cy="491.85" r="3.0" fill="#7dff7d"/>
<circle cx="567.11" cy="491.55" r="1.45" fill="#cdffcd"/>
<circle cx="576.52" cy="491.80" r="3.0" fill="#7dff7d"/>
<circle cx="576.32" cy="491.50" r="1.45" fill="#cdffcd"/>
<circle cx="585.73" cy="491.80" r="3.0" fill="#7dff7d"/>
<circle cx="585.53" cy="491.50" r="1.45" fill="#cdffcd"/>
<circle cx="594.94" cy="491.70" r="3.0" fill="#7dff7d"/>
<circle cx="594.74" cy="491.40" r="1.45" fill="#cdffcd"/>
<circle cx="604.16" cy="491.60" r="3.0" fill="#7dff7d"/>
<circle cx="603.96" cy="491.30" r="1.45" fill="#cdffcd"/>
<circle cx="613.37" cy="491.50" r="3.0" fill="#7dff7d"/>
<circle cx="613.17" cy="491.20" r="1.45" fill="#cdffcd"/>
<circle cx="622.58" cy="491.40" r="3.0" fill="#7dff7d"/>
<circle cx="622.38" cy="491.10" r="1.45" fill="#cdffcd"/>
<circle cx="631.79" cy="491.40" r="3.0" fill="#7dff7d"/>
<circle cx="631.59" cy="491.10" r="1.45" fill="#cdffcd"/>
<circle cx="641.00" cy="491.30" r="3.0" fill="#7dff7d"/>
<circle cx="640.80" cy="491.00" r="1.45" fill="#cdffcd"/>
<polyline fill="none" stroke="#32f032" stroke-width="2.6" stroke-linejoin="round" stroke-linecap="round" points="392.30,505.70 401.51,504.80 410.72,500.60 419.93,496.00 429.14,491.40 438.36,487.20 447.57,482.80 456.78,479.10 465.99,475.80 475.20,472.20 484.41,468.50 493.62,466.10 502.83,463.00 512.04,461.20 521.26,459.30 530.47,457.50 539.68,456.00 548.89,454.70 558.10,453.50 567.31,452.70 576.52,452.00 585.73,451.40 594.94,450.90 604.16,450.40 613.37,450.00 622.58,449.60 631.79,449.20 641.00,448.90"/>
<circle cx="392.30" cy="505.70" r="3.0" fill="#32f032"/>
<circle cx="392.10" cy="505.40" r="1.45" fill="#b1f9b1"/>
<circle cx="401.51" cy="504.80" r="3.0" fill="#32f032"/>
<circle cx="401.31" cy="504.50" r="1.45" fill="#b1f9b1"/>
<circle cx="410.72" cy="500.60" r="3.0" fill="#32f032"/>
<circle cx="410.52" cy="500.30" r="1.45" fill="#b1f9b1"/>
<circle cx="419.93" cy="496.00" r="3.0" fill="#32f032"/>
<circle cx="419.73" cy="495.70" r="1.45" fill="#b1f9b1"/>
<circle cx="429.14" cy="491.40" r="3.0" fill="#32f032"/>
<circle cx="428.94" cy="491.10" r="1.45" fill="#b1f9b1"/>
<circle cx="438.36" cy="487.20" r="3.0" fill="#32f032"/>
<circle cx="438.16" cy="486.90" r="1.45" fill="#b1f9b1"/>
<circle cx="447.57" cy="482.80" r="3.0" fill="#32f032"/>
<circle cx="447.37" cy="482.50" r="1.45" fill="#b1f9b1"/>
<circle cx="456.78" cy="479.10" r="3.0" fill="#32f032"/>
<circle cx="456.58" cy="478.80" r="1.45" fill="#b1f9b1"/>
<circle cx="465.99" cy="475.80" r="3.0" fill="#32f032"/>
<circle cx="465.79" cy="475.50" r="1.45" fill="#b1f9b1"/>
<circle cx="475.20" cy="472.20" r="3.0" fill="#32f032"/>
<circle cx="475.00" cy="471.90" r="1.45" fill="#b1f9b1"/>
<circle cx="484.41" cy="468.50" r="3.0" fill="#32f032"/>
<circle cx="484.21" cy="468.20" r="1.45" fill="#b1f9b1"/>
<circle cx="493.62" cy="466.10" r="3.0" fill="#32f032"/>
<circle cx="493.42" cy="465.80" r="1.45" fill="#b1f9b1"/>
<circle cx="502.83" cy="463.00" r="3.0" fill="#32f032"/>
<circle cx="502.63" cy="462.70" r="1.45" fill="#b1f9b1"/>
<circle cx="512.04" cy="461.20" r="3.0" fill="#32f032"/>
<circle cx="511.84" cy="460.90" r="1.45" fill="#b1f9b1"/>
<circle cx="521.26" cy="459.30" r="3.0" fill="#32f032"/>
<circle cx="521.06" cy="459.00" r="1.45" fill="#b1f9b1"/>
<circle cx="530.47" cy="457.50" r="3.0" fill="#32f032"/>
<circle cx="530.27" cy="457.20" r="1.45" fill="#b1f9b1"/>
<circle cx="539.68" cy="456.00" r="3.0" fill="#32f032"/>
<circle cx="539.48" cy="455.70" r="1.45" fill="#b1f9b1"/>
<circle cx="548.89" cy="454.70" r="3.0" fill="#32f032"/>
<circle cx="548.69" cy="454.40" r="1.45" fill="#b1f9b1"/>
<circle cx="558.10" cy="453.50" r="3.0" fill="#32f032"/>
<circle cx="557.90" cy="453.20" r="1.45" fill="#b1f9b1"/>
<circle cx="567.31" cy="452.70" r="3.0" fill="#32f032"/>
<circle cx="567.11" cy="452.40" r="1.45" fill="#b1f9b1"/>
<circle cx="576.52" cy="452.00" r="3.0" fill="#32f032"/>
<circle cx="576.32" cy="451.70" r="1.45" fill="#b1f9b1"/>
<circle cx="585.73" cy="451.40" r="3.0" fill="#32f032"/>
<circle cx="585.53" cy="451.10" r="1.45" fill="#b1f9b1"/>
<circle cx="594.94" cy="450.90" r="3.0" fill="#32f032"/>
<circle cx="594.74" cy="450.60" r="1.45" fill="#b1f9b1"/>
<circle cx="604.16" cy="450.40" r="3.0" fill="#32f032"/>
<circle cx="603.96" cy="450.10" r="1.45" fill="#b1f9b1"/>
<circle cx="613.37" cy="450.00" r="3.0" fill="#32f032"/>
<circle cx="613.17" cy="449.70" r="1.45" fill="#b1f9b1"/>
<circle cx="622.58" cy="449.60" r="3.0" fill="#32f032"/>
<circle cx="622.38" cy="449.30" r="1.45" fill="#b1f9b1"/>
<circle cx="631.79" cy="449.20" r="3.0" fill="#32f032"/>
<circle cx="631.59" cy="448.90" r="1.45" fill="#b1f9b1"/>
<circle cx="641.00" cy="448.90" r="3.0" fill="#32f032"/>
<circle cx="640.80" cy="448.60" r="1.45" fill="#b1f9b1"/>
<polyline fill="none" stroke="#0c980c" stroke-width="2.6" stroke-linejoin="round" stroke-linecap="round" points="392.30,505.50 401.51,504.20 410.72,499.10 419.93,491.00 429.14,483.20 438.36,475.80 447.57,468.50 456.78,462.10 465.99,455.70 475.20,449.80 484.41,443.40 493.62,437.90 502.83,432.20 512.04,427.20 521.26,422.70 530.47,418.40 539.68,414.30 548.89,410.50 558.10,407.30 567.31,404.20 576.52,401.50 585.73,399.10 594.94,397.30 604.16,395.40 613.37,393.60 622.58,392.70 631.79,391.60 641.00,390.50"/>
<circle cx="392.30" cy="505.50" r="3.0" fill="#0c980c"/>
<circle cx="392.10" cy="505.20" r="1.45" fill="#a2d7a2"/>
<circle cx="401.51" cy="504.20" r="3.0" fill="#0c980c"/>
<circle cx="401.31" cy="503.90" r="1.45" fill="#a2d7a2"/>
<circle cx="410.72" cy="499.10" r="3.0" fill="#0c980c"/>
<circle cx="410.52" cy="498.80" r="1.45" fill="#a2d7a2"/>
<circle cx="419.93" cy="491.00" r="3.0" fill="#0c980c"/>
<circle cx="419.73" cy="490.70" r="1.45" fill="#a2d7a2"/>
<circle cx="429.14" cy="483.20" r="3.0" fill="#0c980c"/>
<circle cx="428.94" cy="482.90" r="1.45" fill="#a2d7a2"/>
<circle cx="438.36" cy="475.80" r="3.0" fill="#0c980c"/>
<circle cx="438.16" cy="475.50" r="1.45" fill="#a2d7a2"/>
<circle cx="447.57" cy="468.50" r="3.0" fill="#0c980c"/>
<circle cx="447.37" cy="468.20" r="1.45" fill="#a2d7a2"/>
<circle cx="456.78" cy="462.10" r="3.0" fill="#0c980c"/>
<circle cx="456.58" cy="461.80" r="1.45" fill="#a2d7a2"/>
<circle cx="465.99" cy="455.70" r="3.0" fill="#0c980c"/>
<circle cx="465.79" cy="455.40" r="1.45" fill="#a2d7a2"/>
<circle cx="475.20" cy="449.80" r="3.0" fill="#0c980c"/>
<circle cx="475.00" cy="449.50" r="1.45" fill="#a2d7a2"/>
<circle cx="484.41" cy="443.40" r="3.0" fill="#0c980c"/>
<circle cx="484.21" cy="443.10" r="1.45" fill="#a2d7a2"/>
<circle cx="493.62" cy="437.90" r="3.0" fill="#0c980c"/>
<circle cx="493.42" cy="437.60" r="1.45" fill="#a2d7a2"/>
<circle cx="502.83" cy="432.20" r="3.0" fill="#0c980c"/>
<circle cx="502.63" cy="431.90" r="1.45" fill="#a2d7a2"/>
<circle cx="512.04" cy="427.20" r="3.0" fill="#0c980c"/>
<circle cx="511.84" cy="426.90" r="1.45" fill="#a2d7a2"/>
<circle cx="521.26" cy="422.70" r="3.0" fill="#0c980c"/>
<circle cx="521.06" cy="422.40" r="1.45" fill="#a2d7a2"/>
<circle cx="530.47" cy="418.40" r="3.0" fill="#0c980c"/>
<circle cx="530.27" cy="418.10" r="1.45" fill="#a2d7a2"/>
<circle cx="539.68" cy="414.30" r="3.0" fill="#0c980c"/>
<circle cx="539.48" cy="414.00" r="1.45" fill="#a2d7a2"/>
<circle cx="548.89" cy="410.50" r="3.0" fill="#0c980c"/>
<circle cx="548.69" cy="410.20" r="1.45" fill="#a2d7a2"/>
<circle cx="558.10" cy="407.30" r="3.0" fill="#0c980c"/>
<circle cx="557.90" cy="407.00" r="1.45" fill="#a2d7a2"/>
<circle cx="567.31" cy="404.20" r="3.0" fill="#0c980c"/>
<circle cx="567.11" cy="403.90" r="1.45" fill="#a2d7a2"/>
<circle cx="576.52" cy="401.50" r="3.0" fill="#0c980c"/>
<circle cx="576.32" cy="401.20" r="1.45" fill="#a2d7a2"/>
<circle cx="585.73" cy="399.10" r="3.0" fill="#0c980c"/>
<circle cx="585.53" cy="398.80" r="1.45" fill="#a2d7a2"/>
<circle cx="594.94" cy="397.30" r="3.0" fill="#0c980c"/>
<circle cx="594.74" cy="397.00" r="1.45" fill="#a2d7a2"/>
<circle cx="604.16" cy="395.40" r="3.0" fill="#0c980c"/>
<circle cx="603.96" cy="395.10" r="1.45" fill="#a2d7a2"/>
<circle cx="613.37" cy="393.60" r="3.0" fill="#0c980c"/>
<circle cx="613.17" cy="393.30" r="1.45" fill="#a2d7a2"/>
<circle cx="622.58" cy="392.70" r="3.0" fill="#0c980c"/>
<circle cx="622.38" cy="392.40" r="1.45" fill="#a2d7a2"/>
<circle cx="631.79" cy="391.60" r="3.0" fill="#0c980c"/>
<circle cx="631.59" cy="391.30" r="1.45" fill="#a2d7a2"/>
<circle cx="641.00" cy="390.50" r="3.0" fill="#0c980c"/>
<circle cx="640.80" cy="390.20" r="1.45" fill="#a2d7a2"/>
<polyline fill="none" stroke="#006400" stroke-width="2.6" stroke-linejoin="round" stroke-linecap="round" points="392.30,505.20 401.51,503.30 410.72,497.30 419.93,487.20 429.14,477.10 438.36,467.00 447.57,457.10 456.78,447.40 465.99,438.20 475.20,429.40 484.41,421.20 493.62,412.90 502.83,404.20 512.04,397.00 521.26,389.90 530.47,383.20 539.68,376.90 548.89,371.20 558.10,365.40 567.31,359.90 576.52,354.70 585.73,350.20 594.94,345.60 604.16,341.50 613.37,338.10 622.58,335.10 631.79,331.80 641.00,329.10"/>
<circle cx="392.30" cy="505.20" r="3.0" fill="#006400"/>
<circle cx="392.10" cy="504.90" r="1.45" fill="#9ec49e"/>
<circle cx="401.51" cy="503.30" r="3.0" fill="#006400"/>
<circle cx="401.31" cy="503.00" r="1.45" fill="#9ec49e"/>
<circle cx="410.72" cy="497.30" r="3.0" fill="#006400"/>
<circle cx="410.52" cy="497.00" r="1.45" fill="#9ec49e"/>
<circle cx="419.93" cy="487.20" r="3.0" fill="#006400"/>
<circle cx="419.73" cy="486.90" r="1.45" fill="#9ec49e"/>
<circle cx="429.14" cy="477.10" r="3.0" fill="#006400"/>
<circle cx="428.94" cy="476.80" r="1.45" fill="#9ec49e"/>
<circle cx="438.36" cy="467.00" r="3.0" fill="#006400"/>
<circle cx="438.16" cy="466.70" r="1.45" fill="#9ec49e"/>
<circle cx="447.57" cy="457.10" r="3.0" fill="#006400"/>
<circle cx="447.37" cy="456.80" r="1.45" fill="#9ec49e"/>
<circle cx="456.78" cy="447.40" r="3.0" fill="#006400"/>
<circle cx="456.58" cy="447.10" r="1.45" fill="#9ec49e"/>
<circle cx="465.99" cy="438.20" r="3.0" fill="#006400"/>
<circle cx="465.79" cy="437.90" r="1.45" fill="#9ec49e"/>
<circle cx="475.20" cy="429.40" r="3.0" fill="#006400"/>
<circle cx="475.00" cy="429.10" r="1.45" fill="#9ec49e"/>
<circle cx="484.41" cy="421.20" r="3.0" fill="#006400"/>
<circle cx="484.21" cy="420.90" r="1.45" fill="#9ec49e"/>
<circle cx="493.62" cy="412.90" r="3.0" fill="#006400"/>
<circle cx="493.42" cy="412.60" r="1.45" fill="#9ec49e"/>
<circle cx="502.83" cy="404.20" r="3.0" fill="#006400"/>
<circle cx="502.63" cy="403.90" r="1.45" fill="#9ec49e"/>
<circle cx="512.04" cy="397.00" r="3.0" fill="#006400"/>
<circle cx="511.84" cy="396.70" r="1.45" fill="#9ec49e"/>
<circle cx="521.26" cy="389.90" r="3.0" fill="#006400"/>
<circle cx="521.06" cy="389.60" r="1.45" fill="#9ec49e"/>
<circle cx="530.47" cy="383.20" r="3.0" fill="#006400"/>
<circle cx="530.27" cy="382.90" r="1.45" fill="#9ec49e"/>
<circle cx="539.68" cy="376.90" r="3.0" fill="#006400"/>
<circle cx="539.48" cy="376.60" r="1.45" fill="#9ec49e"/>
<circle cx="548.89" cy="371.20" r="3.0" fill="#006400"/>
<circle cx="548.69" cy="370.90" r="1.45" fill="#9ec49e"/>
<circle cx="558.10" cy="365.40" r="3.0" fill="#006400"/>
<circle cx="557.90" cy="365.10" r="1.45" fill="#9ec49e"/>
<circle cx="567.31" cy="359.90" r="3.0" fill="#006400"/>
<circle cx="567.11" cy="359.60" r="1.45" fill="#9ec49e"/>
<circle cx="576.52" cy="354.70" r="3.0" fill="#006400"/>
<circle cx="576.32" cy="354.40" r="1.45" fill="#9ec49e"/>
<circle cx="585.73" cy="350.20" r="3.0" fill="#006400"/>
<circle cx="585.53" cy="349.90" r="1.45" fill="#9ec49e"/>
<circle cx="594.94" cy="345.60" r="3.0" fill="#006400"/>
<circle cx="594.74" cy="345.30" r="1.45" fill="#9ec49e"/>
<circle cx="604.16" cy="341.50" r="3.0" fill="#006400"/>
<circle cx="603.96" cy="341.20" r="1.45" fill="#9ec49e"/>
<circle cx="613.37" cy="338.10" r="3.0" fill="#006400"/>
<circle cx="613.17" cy="337.80" r="1.45" fill="#9ec49e"/>
<circle cx="622.58" cy="335.10" r="3.0" fill="#006400"/>
<circle cx="622.38" cy="334.80" r="1.45" fill="#9ec49e"/>
<circle cx="631.79" cy="331.80" r="3.0" fill="#006400"/>
<circle cx="631.59" cy="331.50" r="1.45" fill="#9ec49e"/>
<circle cx="641.00" cy="329.10" r="3.0" fill="#006400"/>
<circle cx="640.80" cy="328.80" r="1.45" fill="#9ec49e"/>
</g>
<rect x="392.3" y="306.6" width="248.7" height="199.79999999999995" fill="none" stroke="#000" stroke-width="1.5"/>
<line x1="392.30" y1="506.40" x2="392.30" y2="511.00" stroke="#000" stroke-width="1.5" />
<line x1="423.39" y1="506.40" x2="423.39" y2="509.00" stroke="#000" stroke-width="1.5" />
<line x1="454.48" y1="506.40" x2="454.48" y2="511.00" stroke="#000" stroke-width="1.5" />
<line x1="485.56" y1="506.40" x2="485.56" y2="509.00" stroke="#000" stroke-width="1.5" />
<line x1="516.65" y1="506.40" x2="516.65" y2="511.00" stroke="#000" stroke-width="1.5" />
<line x1="547.74" y1="506.40" x2="547.74" y2="509.00" stroke="#000" stroke-width="1.5" />
<line x1="578.83" y1="506.40" x2="578.83" y2="511.00" stroke="#000" stroke-width="1.5" />
<line x1="609.91" y1="506.40" x2="609.91" y2="509.00" stroke="#000" stroke-width="1.5" />
<line x1="641.00" y1="506.40" x2="641.00" y2="511.00" stroke="#000" stroke-width="1.5" />
<text x="392.00" y="528.20" font-size="16.4" text-anchor="middle" font-weight="normal" fill="#000" >0</text>
<text x="447.68" y="528.20" font-size="16.4" text-anchor="middle" font-weight="normal" fill="#000" >–10</text>
<text x="509.85" y="528.20" font-size="16.4" text-anchor="middle" font-weight="normal" fill="#000" >–20</text>
<text x="572.03" y="528.20" font-size="16.4" text-anchor="middle" font-weight="normal" fill="#000" >–30</text>
<text x="634.20" y="528.20" font-size="16.4" text-anchor="middle" font-weight="normal" fill="#000" >–40</text>
<line x1="387.70" y1="506.40" x2="392.30" y2="506.40" stroke="#000" stroke-width="1.5" />
<line x1="389.90" y1="481.42" x2="392.30" y2="481.42" stroke="#000" stroke-width="1.5" />
<text x="383.00" y="512.00" font-size="16.4" text-anchor="end" font-weight="normal" fill="#000" >0</text>
<line x1="387.70" y1="456.45" x2="392.30" y2="456.45" stroke="#000" stroke-width="1.5" />
<line x1="389.90" y1="431.48" x2="392.30" y2="431.48" stroke="#000" stroke-width="1.5" />
<text x="385.70" y="464.85" font-size="16.4" text-anchor="end" font-weight="normal" fill="#000" >2.0<tspan dx="0.4">×</tspan><tspan dx="0.4">10</tspan><tspan font-size="12" dy="-3.7">–5</tspan><tspan dy="3.7" font-size="1">&#8203;</tspan></text>
<line x1="387.70" y1="406.50" x2="392.30" y2="406.50" stroke="#000" stroke-width="1.5" />
<line x1="389.90" y1="381.52" x2="392.30" y2="381.52" stroke="#000" stroke-width="1.5" />
<text x="385.70" y="414.90" font-size="16.4" text-anchor="end" font-weight="normal" fill="#000" >4.0<tspan dx="0.4">×</tspan><tspan dx="0.4">10</tspan><tspan font-size="12" dy="-3.7">–5</tspan><tspan dy="3.7" font-size="1">&#8203;</tspan></text>
<line x1="387.70" y1="356.55" x2="392.30" y2="356.55" stroke="#000" stroke-width="1.5" />
<line x1="389.90" y1="331.58" x2="392.30" y2="331.58" stroke="#000" stroke-width="1.5" />
<text x="385.70" y="364.95" font-size="16.4" text-anchor="end" font-weight="normal" fill="#000" >6.0<tspan dx="0.4">×</tspan><tspan dx="0.4">10</tspan><tspan font-size="12" dy="-3.7">–5</tspan><tspan dy="3.7" font-size="1">&#8203;</tspan></text>
<line x1="387.70" y1="306.60" x2="392.30" y2="306.60" stroke="#000" stroke-width="1.5" />
<text x="386.50" y="316.20" font-size="16.8" text-anchor="end" font-weight="bold" fill="#000" >8.0<tspan dx="0.4">×</tspan><tspan dx="0.4">10</tspan><tspan font-size="12" dy="-4.7">–5</tspan><tspan dy="4.7" font-size="1">&#8203;</tspan></text>
<text x="514.35" y="550.10" font-size="16.5" text-anchor="middle" font-weight="normal" fill="#000" >V<tspan font-size="10.5" dy="3.2">DS</tspan><tspan dy="-3.2" font-size="1">&#8203;</tspan> (V)</text>
<text transform="translate(311.2,402.2) rotate(-90)" font-size="16.5" text-anchor="middle">I<tspan font-size="10.5" dy="3.2">DS</tspan><tspan dy="-3.2" font-size="1">&#8203;</tspan> (A)</text>
<line x1="402.00" y1="331.40" x2="437.30" y2="331.40" stroke="#b4ffb4" stroke-width="2.3" />
<circle cx="419.5" cy="331.40" r="2.9" fill="#b4ffb4"/>
<circle cx="419.3" cy="331.10" r="1.4" fill="#e2ffe2"/>
<text x="444.00" y="337.00" font-size="16.5" text-anchor="start" font-weight="normal" fill="#000" >0 V</text>
<line x1="402.00" y1="349.90" x2="437.30" y2="349.90" stroke="#7dff7d" stroke-width="2.3" />
<circle cx="419.5" cy="349.90" r="2.9" fill="#7dff7d"/>
<circle cx="419.3" cy="349.60" r="1.4" fill="#cdffcd"/>
<text x="443.30" y="354.75" font-size="16.5" text-anchor="start" font-weight="normal" fill="#000" >–15 V</text>
<line x1="402.00" y1="368.40" x2="437.30" y2="368.40" stroke="#32f032" stroke-width="2.3" />
<circle cx="419.5" cy="368.40" r="2.9" fill="#32f032"/>
<circle cx="419.3" cy="368.10" r="1.4" fill="#b1f9b1"/>
<text x="443.30" y="372.50" font-size="16.5" text-anchor="start" font-weight="normal" fill="#000" >–30 V</text>
<line x1="402.00" y1="386.90" x2="437.30" y2="386.90" stroke="#0c980c" stroke-width="2.3" />
<circle cx="419.5" cy="386.90" r="2.9" fill="#0c980c"/>
<circle cx="419.3" cy="386.60" r="1.4" fill="#a2d7a2"/>
<text x="443.30" y="390.25" font-size="16.5" text-anchor="start" font-weight="normal" fill="#000" >–45 V</text>
<line x1="402.00" y1="405.40" x2="437.30" y2="405.40" stroke="#006400" stroke-width="2.3" />
<circle cx="419.5" cy="405.40" r="2.9" fill="#006400"/>
<circle cx="419.3" cy="405.10" r="1.4" fill="#9ec49e"/>
<text x="443.30" y="408.00" font-size="16.5" text-anchor="start" font-weight="normal" fill="#000" >–60 V</text>
<text x="554.30" y="333.20" font-size="16.5" text-anchor="middle" font-weight="bold" fill="#000" >1Py-1Py</text>
<clipPath id="clipt31"><rect x="735.8" y="31.6" width="249.3" height="199.6"/></clipPath>
<g clip-path="url(#clipt31)">
<path d="M740.10,226.70L742.42,226.70M750.02,226.70L752.35,226.70M759.95,226.70L762.27,226.70M769.87,226.70L772.20,226.70M779.79,226.55L782.12,226.45M789.68,225.73L792.09,225.37M799.54,223.91L802.07,223.29M809.36,221.17L812.10,220.23M819.02,217.16L822.29,215.34M829.04,211.85L832.12,210.35M838.73,206.64L842.27,204.36M848.91,200.70L851.94,199.30M858.29,195.24L862.41,191.76M868.64,187.46L871.91,185.64M878.39,181.67L882.01,179.23M888.32,175.00L891.92,172.60M897.97,168.03L902.12,164.47M908.23,159.99L911.71,157.81M918.21,153.88L921.58,151.92M927.90,147.73L931.73,144.87M937.87,140.39L941.61,137.71M947.59,133.03L951.74,129.47M957.72,124.79L961.46,122.11M967.95,118.19L971.08,116.61M977.67,112.84L981.21,110.56" stroke="#ff8000" stroke-width="2.1" fill="none"/>
<circle cx="736.30" cy="226.70" r="3.0" fill="url(#sOrange)"/>
<circle cx="746.22" cy="226.70" r="3.0" fill="url(#sOrange)"/>
<circle cx="756.15" cy="226.70" r="3.0" fill="url(#sOrange)"/>
<circle cx="766.07" cy="226.70" r="3.0" fill="url(#sOrange)"/>
<circle cx="776.00" cy="226.70" r="3.0" fill="url(#sOrange)"/>
<circle cx="785.92" cy="226.30" r="3.0" fill="url(#sOrange)"/>
<circle cx="795.84" cy="224.80" r="3.0" fill="url(#sOrange)"/>
<circle cx="805.77" cy="222.40" r="3.0" fill="url(#sOrange)"/>
<circle cx="815.69" cy="219.00" r="3.0" fill="url(#sOrange)"/>
<circle cx="825.62" cy="213.50" r="3.0" fill="url(#sOrange)"/>
<circle cx="835.54" cy="208.70" r="3.0" fill="url(#sOrange)"/>
<circle cx="845.46" cy="202.30" r="3.0" fill="url(#sOrange)"/>
<circle cx="855.39" cy="197.70" r="3.0" fill="url(#sOrange)"/>
<circle cx="865.31" cy="189.30" r="3.0" fill="url(#sOrange)"/>
<circle cx="875.24" cy="183.80" r="3.0" fill="url(#sOrange)"/>
<circle cx="885.16" cy="177.10" r="3.0" fill="url(#sOrange)"/>
<circle cx="895.08" cy="170.50" r="3.0" fill="url(#sOrange)"/>
<circle cx="905.01" cy="162.00" r="3.0" fill="url(#sOrange)"/>
<circle cx="914.93" cy="155.80" r="3.0" fill="url(#sOrange)"/>
<circle cx="924.86" cy="150.00" r="3.0" fill="url(#sOrange)"/>
<circle cx="934.78" cy="142.60" r="3.0" fill="url(#sOrange)"/>
<circle cx="944.70" cy="135.50" r="3.0" fill="url(#sOrange)"/>
<circle cx="954.63" cy="127.00" r="3.0" fill="url(#sOrange)"/>
<circle cx="964.55" cy="119.90" r="3.0" fill="url(#sOrange)"/>
<circle cx="974.48" cy="114.90" r="3.0" fill="url(#sOrange)"/>
<circle cx="984.40" cy="108.50" r="3.0" fill="url(#sOrange)"/>
<path d="M740.08,217.84L742.44,218.06M750.01,218.74L752.36,218.96M759.92,219.72L762.30,219.98M769.85,220.82L772.22,221.08M778.18,218.39L783.73,210.51M786.96,203.75L794.80,176.25M797.30,169.09L804.31,152.21M807.70,145.43L813.76,135.17M817.82,128.75L823.49,120.35M828.55,114.78L832.61,111.42M838.33,106.42L842.68,102.38M848.84,98.06L852.01,96.44M858.46,92.47L862.24,89.73M868.86,86.14L871.69,85.06M878.68,82.10L881.71,80.70M888.72,77.77L891.52,76.73M898.58,73.92L901.51,72.68M908.69,70.27L911.25,69.63M918.63,67.81L921.16,67.19M928.51,65.27L931.12,64.53M938.46,62.57L941.02,61.93M948.40,60.11L950.93,59.49M958.32,57.71L960.86,57.09M968.33,55.78L970.70,55.52M978.25,54.68L980.62,54.42" stroke="#0a0aff" stroke-width="2.1" fill="none"/>
<circle cx="736.30" cy="217.50" r="3.0" fill="url(#sBlue)"/>
<circle cx="746.22" cy="218.40" r="3.0" fill="url(#sBlue)"/>
<circle cx="756.15" cy="219.30" r="3.0" fill="url(#sBlue)"/>
<circle cx="766.07" cy="220.40" r="3.0" fill="url(#sBlue)"/>
<circle cx="776.00" cy="221.50" r="3.0" fill="url(#sBlue)"/>
<circle cx="785.92" cy="207.40" r="3.0" fill="url(#sBlue)"/>
<circle cx="795.84" cy="172.60" r="3.0" fill="url(#sBlue)"/>
<circle cx="805.77" cy="148.70" r="3.0" fill="url(#sBlue)"/>
<circle cx="815.69" cy="131.90" r="3.0" fill="url(#sBlue)"/>
<circle cx="825.62" cy="117.20" r="3.0" fill="url(#sBlue)"/>
<circle cx="835.54" cy="109.00" r="3.0" fill="url(#sBlue)"/>
<circle cx="845.46" cy="99.80" r="3.0" fill="url(#sBlue)"/>
<circle cx="855.39" cy="94.70" r="3.0" fill="url(#sBlue)"/>
<circle cx="865.31" cy="87.50" r="3.0" fill="url(#sBlue)"/>
<circle cx="875.24" cy="83.70" r="3.0" fill="url(#sBlue)"/>
<circle cx="885.16" cy="79.10" r="3.0" fill="url(#sBlue)"/>
<circle cx="895.08" cy="75.40" r="3.0" fill="url(#sBlue)"/>
<circle cx="905.01" cy="71.20" r="3.0" fill="url(#sBlue)"/>
<circle cx="914.93" cy="68.70" r="3.0" fill="url(#sBlue)"/>
<circle cx="924.86" cy="66.30" r="3.0" fill="url(#sBlue)"/>
<circle cx="934.78" cy="63.50" r="3.0" fill="url(#sBlue)"/>
<circle cx="944.70" cy="61.00" r="3.0" fill="url(#sBlue)"/>
<circle cx="954.63" cy="58.60" r="3.0" fill="url(#sBlue)"/>
<circle cx="964.55" cy="56.20" r="3.0" fill="url(#sBlue)"/>
<circle cx="974.48" cy="55.10" r="3.0" fill="url(#sBlue)"/>
<circle cx="984.40" cy="54.00" r="3.0" fill="url(#sBlue)"/>
</g>
<rect x="736.3" y="31.6" width="248.10000000000002" height="198.9" fill="none" stroke="#000" stroke-width="1.5"/>
<line x1="736.30" y1="230.50" x2="736.30" y2="236.00" stroke="#000" stroke-width="1.5" />
<line x1="761.11" y1="230.50" x2="761.11" y2="233.50" stroke="#000" stroke-width="1.5" />
<line x1="785.92" y1="230.50" x2="785.92" y2="236.00" stroke="#000" stroke-width="1.5" />
<line x1="810.73" y1="230.50" x2="810.73" y2="233.50" stroke="#000" stroke-width="1.5" />
<line x1="835.54" y1="230.50" x2="835.54" y2="236.00" stroke="#000" stroke-width="1.5" />
<line x1="860.35" y1="230.50" x2="860.35" y2="233.50" stroke="#000" stroke-width="1.5" />
<line x1="885.16" y1="230.50" x2="885.16" y2="236.00" stroke="#000" stroke-width="1.5" />
<line x1="909.97" y1="230.50" x2="909.97" y2="233.50" stroke="#000" stroke-width="1.5" />
<line x1="934.78" y1="230.50" x2="934.78" y2="236.00" stroke="#000" stroke-width="1.5" />
<line x1="959.59" y1="230.50" x2="959.59" y2="233.50" stroke="#000" stroke-width="1.5" />
<line x1="984.40" y1="230.50" x2="984.40" y2="236.00" stroke="#000" stroke-width="1.5" />
<text x="740.20" y="254.60" font-size="16.4" text-anchor="middle" font-weight="normal" fill="#000" >10</text>
<text x="784.00" y="254.60" font-size="16.4" text-anchor="middle" font-weight="normal" fill="#000" >0</text>
<text x="826.60" y="254.60" font-size="16.4" text-anchor="middle" font-weight="normal" fill="#000" >–10</text>
<text x="878.00" y="254.60" font-size="16.4" text-anchor="middle" font-weight="normal" fill="#000" >–20</text>
<text x="928.50" y="254.60" font-size="16.4" text-anchor="middle" font-weight="normal" fill="#000" >–30</text>
<text x="978.50" y="254.60" font-size="16.4" text-anchor="middle" font-weight="normal" fill="#000" >–40</text>
<line x1="731.10" y1="40.60" x2="736.30" y2="40.60" stroke="#000" stroke-width="1.8" />
<text x="695.30" y="51.40" font-size="16.5" text-anchor="start" font-weight="bold" fill="#000" >10<tspan font-size="10.5" dy="-4.6">–6</tspan><tspan dy="4.6" font-size="1">&#8203;</tspan></text>
<line x1="731.10" y1="75.00" x2="736.30" y2="75.00" stroke="#000" stroke-width="1.8" />
<text x="695.30" y="84.20" font-size="16.4" text-anchor="start" font-weight="normal" fill="#000" >10<tspan font-size="10.5" dy="-5.0">–7</tspan><tspan dy="5.0" font-size="1">&#8203;</tspan></text>
<line x1="731.10" y1="109.40" x2="736.30" y2="109.40" stroke="#000" stroke-width="1.8" />
<text x="695.30" y="117.00" font-size="16.4" text-anchor="start" font-weight="normal" fill="#000" >10<tspan font-size="10.5" dy="-5.0">–8</tspan><tspan dy="5.0" font-size="1">&#8203;</tspan></text>
<line x1="731.10" y1="143.80" x2="736.30" y2="143.80" stroke="#000" stroke-width="1.8" />
<text x="695.30" y="149.80" font-size="16.4" text-anchor="start" font-weight="normal" fill="#000" >10<tspan font-size="10.5" dy="-5.0">–9</tspan><tspan dy="5.0" font-size="1">&#8203;</tspan></text>
<line x1="731.10" y1="178.20" x2="736.30" y2="178.20" stroke="#000" stroke-width="1.8" />
<text x="695.30" y="182.60" font-size="16.4" text-anchor="start" font-weight="normal" fill="#000" >10<tspan font-size="10.5" dy="-5.0">–10</tspan><tspan dy="5.0" font-size="1">&#8203;</tspan></text>
<line x1="731.10" y1="212.60" x2="736.30" y2="212.60" stroke="#000" stroke-width="1.8" />
<text x="695.30" y="215.40" font-size="16.4" text-anchor="start" font-weight="normal" fill="#000" >10<tspan font-size="10.5" dy="-5.0">–11</tspan><tspan dy="5.0" font-size="1">&#8203;</tspan></text>
<line x1="733.70" y1="230.59" x2="736.30" y2="230.59" stroke="#000" stroke-width="1.3" />
<line x1="733.70" y1="226.29" x2="736.30" y2="226.29" stroke="#000" stroke-width="1.3" />
<line x1="733.70" y1="222.96" x2="736.30" y2="222.96" stroke="#000" stroke-width="1.3" />
<line x1="733.70" y1="220.23" x2="736.30" y2="220.23" stroke="#000" stroke-width="1.3" />
<line x1="733.70" y1="217.93" x2="736.30" y2="217.93" stroke="#000" stroke-width="1.3" />
<line x1="733.70" y1="215.93" x2="736.30" y2="215.93" stroke="#000" stroke-width="1.3" />
<line x1="733.70" y1="214.17" x2="736.30" y2="214.17" stroke="#000" stroke-width="1.3" />
<line x1="733.70" y1="202.24" x2="736.30" y2="202.24" stroke="#000" stroke-width="1.3" />
<line x1="733.70" y1="196.19" x2="736.30" y2="196.19" stroke="#000" stroke-width="1.3" />
<line x1="733.70" y1="191.89" x2="736.30" y2="191.89" stroke="#000" stroke-width="1.3" />
<line x1="733.70" y1="188.56" x2="736.30" y2="188.56" stroke="#000" stroke-width="1.3" />
<line x1="733.70" y1="185.83" x2="736.30" y2="185.83" stroke="#000" stroke-width="1.3" />
<line x1="733.70" y1="183.53" x2="736.30" y2="183.53" stroke="#000" stroke-width="1.3" />
<line x1="733.70" y1="181.53" x2="736.30" y2="181.53" stroke="#000" stroke-width="1.3" />
<line x1="733.70" y1="179.77" x2="736.30" y2="179.77" stroke="#000" stroke-width="1.3" />
<line x1="733.70" y1="167.84" x2="736.30" y2="167.84" stroke="#000" stroke-width="1.3" />
<line x1="733.70" y1="161.79" x2="736.30" y2="161.79" stroke="#000" stroke-width="1.3" />
<line x1="733.70" y1="157.49" x2="736.30" y2="157.49" stroke="#000" stroke-width="1.3" />
<line x1="733.70" y1="154.16" x2="736.30" y2="154.16" stroke="#000" stroke-width="1.3" />
<line x1="733.70" y1="151.43" x2="736.30" y2="151.43" stroke="#000" stroke-width="1.3" />
<line x1="733.70" y1="149.13" x2="736.30" y2="149.13" stroke="#000" stroke-width="1.3" />
<line x1="733.70" y1="147.13" x2="736.30" y2="147.13" stroke="#000" stroke-width="1.3" />
<line x1="733.70" y1="145.37" x2="736.30" y2="145.37" stroke="#000" stroke-width="1.3" />
<line x1="733.70" y1="133.44" x2="736.30" y2="133.44" stroke="#000" stroke-width="1.3" />
<line x1="733.70" y1="127.39" x2="736.30" y2="127.39" stroke="#000" stroke-width="1.3" />
<line x1="733.70" y1="123.09" x2="736.30" y2="123.09" stroke="#000" stroke-width="1.3" />
<line x1="733.70" y1="119.76" x2="736.30" y2="119.76" stroke="#000" stroke-width="1.3" />
<line x1="733.70" y1="117.03" x2="736.30" y2="117.03" stroke="#000" stroke-width="1.3" />
<line x1="733.70" y1="114.73" x2="736.30" y2="114.73" stroke="#000" stroke-width="1.3" />
<line x1="733.70" y1="112.73" x2="736.30" y2="112.73" stroke="#000" stroke-width="1.3" />
<line x1="733.70" y1="110.97" x2="736.30" y2="110.97" stroke="#000" stroke-width="1.3" />
<line x1="733.70" y1="99.04" x2="736.30" y2="99.04" stroke="#000" stroke-width="1.3" />
<line x1="733.70" y1="92.99" x2="736.30" y2="92.99" stroke="#000" stroke-width="1.3" />
<line x1="733.70" y1="88.69" x2="736.30" y2="88.69" stroke="#000" stroke-width="1.3" />
<line x1="733.70" y1="85.36" x2="736.30" y2="85.36" stroke="#000" stroke-width="1.3" />
<line x1="733.70" y1="82.63" x2="736.30" y2="82.63" stroke="#000" stroke-width="1.3" />
<line x1="733.70" y1="80.33" x2="736.30" y2="80.33" stroke="#000" stroke-width="1.3" />
<line x1="733.70" y1="78.33" x2="736.30" y2="78.33" stroke="#000" stroke-width="1.3" />
<line x1="733.70" y1="76.57" x2="736.30" y2="76.57" stroke="#000" stroke-width="1.3" />
<line x1="733.70" y1="64.64" x2="736.30" y2="64.64" stroke="#000" stroke-width="1.3" />
<line x1="733.70" y1="58.59" x2="736.30" y2="58.59" stroke="#000" stroke-width="1.3" />
<line x1="733.70" y1="54.29" x2="736.30" y2="54.29" stroke="#000" stroke-width="1.3" />
<line x1="733.70" y1="50.96" x2="736.30" y2="50.96" stroke="#000" stroke-width="1.3" />
<line x1="733.70" y1="48.23" x2="736.30" y2="48.23" stroke="#000" stroke-width="1.3" />
<line x1="733.70" y1="45.93" x2="736.30" y2="45.93" stroke="#000" stroke-width="1.3" />
<line x1="733.70" y1="43.93" x2="736.30" y2="43.93" stroke="#000" stroke-width="1.3" />
<line x1="733.70" y1="42.17" x2="736.30" y2="42.17" stroke="#000" stroke-width="1.3" />
<line x1="733.70" y1="30.24" x2="736.30" y2="30.24" stroke="#000" stroke-width="1.3" />
<line x1="984.40" y1="227.50" x2="989.00" y2="227.50" stroke="#000" stroke-width="1.5" />
<line x1="984.40" y1="209.60" x2="986.90" y2="209.60" stroke="#000" stroke-width="1.5" />
<text x="994.20" y="234.00" font-size="16.4" text-anchor="start" font-weight="normal" fill="#000" >0</text>
<line x1="984.40" y1="191.70" x2="989.00" y2="191.70" stroke="#000" stroke-width="1.5" />
<line x1="984.40" y1="173.80" x2="986.90" y2="173.80" stroke="#000" stroke-width="1.5" />
<text x="993.00" y="197.10" font-size="16.4" text-anchor="start" font-weight="normal" fill="#000" >2.0<tspan dx="0.4">×</tspan><tspan dx="0.4">10</tspan><tspan font-size="12" dy="-4.3">–4</tspan><tspan dy="4.3" font-size="1">&#8203;</tspan></text>
<line x1="984.40" y1="155.90" x2="989.00" y2="155.90" stroke="#000" stroke-width="1.5" />
<line x1="984.40" y1="138.00" x2="986.90" y2="138.00" stroke="#000" stroke-width="1.5" />
<text x="993.00" y="160.20" font-size="16.4" text-anchor="start" font-weight="normal" fill="#000" >4.0<tspan dx="0.4">×</tspan><tspan dx="0.4">10</tspan><tspan font-size="12" dy="-4.3">–4</tspan><tspan dy="4.3" font-size="1">&#8203;</tspan></text>
<line x1="984.40" y1="120.10" x2="989.00" y2="120.10" stroke="#000" stroke-width="1.5" />
<line x1="984.40" y1="102.20" x2="986.90" y2="102.20" stroke="#000" stroke-width="1.5" />
<text x="993.00" y="123.30" font-size="16.4" text-anchor="start" font-weight="normal" fill="#000" >6.0<tspan dx="0.4">×</tspan><tspan dx="0.4">10</tspan><tspan font-size="12" dy="-4.3">–4</tspan><tspan dy="4.3" font-size="1">&#8203;</tspan></text>
<line x1="984.40" y1="84.30" x2="989.00" y2="84.30" stroke="#000" stroke-width="1.5" />
<line x1="984.40" y1="66.40" x2="986.90" y2="66.40" stroke="#000" stroke-width="1.5" />
<text x="993.00" y="86.40" font-size="16.4" text-anchor="start" font-weight="normal" fill="#000" >8.0<tspan dx="0.4">×</tspan><tspan dx="0.4">10</tspan><tspan font-size="12" dy="-4.3">–4</tspan><tspan dy="4.3" font-size="1">&#8203;</tspan></text>
<line x1="984.40" y1="48.50" x2="989.00" y2="48.50" stroke="#000" stroke-width="1.5" />
<text x="993.00" y="49.50" font-size="16.5" text-anchor="start" font-weight="bold" fill="#000" >1.0<tspan dx="0.4">×</tspan><tspan dx="0.4">10</tspan><tspan font-size="12" dy="-4.3">–3</tspan><tspan dy="4.3" font-size="1">&#8203;</tspan></text>
<text x="858.60" y="275.90" font-size="16.5" text-anchor="middle" font-weight="normal" fill="#000" >V<tspan font-size="10.5" dy="3.2">G</tspan><tspan dy="-3.2" font-size="1">&#8203;</tspan> (V)</text>
<text transform="translate(686.8,128.6) rotate(-90)" font-size="16.5" text-anchor="middle">–I<tspan font-size="10.5" dy="3.2">DS</tspan><tspan dy="-3.2" font-size="1">&#8203;</tspan> (A)</text>
<text transform="translate(1076.3,123.8) rotate(-90)" font-size="16.5" text-anchor="middle">(–I<tspan font-size="10.5" dy="3.2">DS</tspan><tspan dy="-3.2" font-size="1">&#8203;</tspan>)<tspan font-size="10.5" dy="-4.2">1/2</tspan><tspan dy="4.2" font-size="1">&#8203;</tspan> (A)<tspan font-size="10.5" dy="-4.2">1/2</tspan><tspan dy="4.2" font-size="1">&#8203;</tspan></text>
<text x="785.50" y="59.20" font-size="16.5" text-anchor="middle" font-weight="bold" fill="#000" >1Py-2Py</text>
<text x="737.60" y="77.40" font-size="16.5" text-anchor="start" font-weight="normal" fill="#000" >V<tspan font-size="10.5" dy="3.2">DS</tspan><tspan dy="-3.2" font-size="1">&#8203;</tspan> <tspan dx="0.8">=</tspan> <tspan dx="0.8">–60 V</tspan></text>
<line x1="765.20" y1="169.30" x2="792.30" y2="169.30" stroke="#000" stroke-width="1.3" />
<polygon points="760.2,169.3 767.0,166.0 767.0,172.60000000000002" fill="#000"/>
<line x1="895.00" y1="169.30" x2="926.80" y2="169.30" stroke="#000" stroke-width="1.3" />
<polygon points="931.8,169.3 925.0,166.0 925.0,172.60000000000002" fill="#000"/>
<clipPath id="clipt305"><rect x="735.5" y="305.5" width="249.59999999999997" height="199.89999999999998"/></clipPath>
<g clip-path="url(#clipt305)">
<path d="M777.26,498.55L777.54,498.45M784.08,494.86L785.78,493.44M791.11,488.07L793.80,484.83M798.69,479.01L801.28,475.99M806.46,470.44L808.56,468.36M813.84,462.90L816.23,460.30M821.53,454.85L823.60,452.85M829.04,447.54L831.14,445.46M836.67,440.25L838.56,438.55M844.35,433.63L845.94,432.37M851.80,427.54L853.54,426.06M859.33,421.14L861.07,419.66M866.95,414.86L868.50,413.64M874.50,408.98L876.01,407.82M881.99,403.13L883.57,401.87M889.61,397.26L891.00,396.24M897.22,391.87L898.45,391.03M904.69,386.68L906.04,385.72M912.35,381.49L913.43,380.81M919.94,376.88L920.90,376.32M927.50,372.55L928.39,372.05M935.01,368.32L935.94,367.78M942.52,363.98L943.48,363.42M950.24,359.97L950.81,359.73M957.72,356.56L958.39,356.24M965.38,353.28L965.78,353.12M972.86,350.35L973.36,350.15M980.35,347.17L980.92,346.93" stroke="#ff8000" stroke-width="2.1" fill="none"/>
<circle cx="736.00" cy="501.10" r="3.0" fill="url(#sOrange)"/>
<circle cx="743.53" cy="501.10" r="3.0" fill="url(#sOrange)"/>
<circle cx="751.05" cy="501.10" r="3.0" fill="url(#sOrange)"/>
<circle cx="758.58" cy="501.10" r="3.0" fill="url(#sOrange)"/>
<circle cx="766.11" cy="501.10" r="3.0" fill="url(#sOrange)"/>
<circle cx="773.64" cy="499.70" r="3.0" fill="url(#sOrange)"/>
<circle cx="781.16" cy="497.30" r="3.0" fill="url(#sOrange)"/>
<circle cx="788.69" cy="491.00" r="3.0" fill="url(#sOrange)"/>
<circle cx="796.22" cy="481.90" r="3.0" fill="url(#sOrange)"/>
<circle cx="803.75" cy="473.10" r="3.0" fill="url(#sOrange)"/>
<circle cx="811.27" cy="465.70" r="3.0" fill="url(#sOrange)"/>
<circle cx="818.80" cy="457.50" r="3.0" fill="url(#sOrange)"/>
<circle cx="826.33" cy="450.20" r="3.0" fill="url(#sOrange)"/>
<circle cx="833.85" cy="442.80" r="3.0" fill="url(#sOrange)"/>
<circle cx="841.38" cy="436.00" r="3.0" fill="url(#sOrange)"/>
<circle cx="848.91" cy="430.00" r="3.0" fill="url(#sOrange)"/>
<circle cx="856.44" cy="423.60" r="3.0" fill="url(#sOrange)"/>
<circle cx="863.96" cy="417.20" r="3.0" fill="url(#sOrange)"/>
<circle cx="871.49" cy="411.30" r="3.0" fill="url(#sOrange)"/>
<circle cx="879.02" cy="405.50" r="3.0" fill="url(#sOrange)"/>
<circle cx="886.55" cy="399.50" r="3.0" fill="url(#sOrange)"/>
<circle cx="894.07" cy="394.00" r="3.0" fill="url(#sOrange)"/>
<circle cx="901.60" cy="388.90" r="3.0" fill="url(#sOrange)"/>
<circle cx="909.13" cy="383.50" r="3.0" fill="url(#sOrange)"/>
<circle cx="916.65" cy="378.80" r="3.0" fill="url(#sOrange)"/>
<circle cx="924.18" cy="374.40" r="3.0" fill="url(#sOrange)"/>
<circle cx="931.71" cy="370.20" r="3.0" fill="url(#sOrange)"/>
<circle cx="939.24" cy="365.90" r="3.0" fill="url(#sOrange)"/>
<circle cx="946.76" cy="361.50" r="3.0" fill="url(#sOrange)"/>
<circle cx="954.29" cy="358.20" r="3.0" fill="url(#sOrange)"/>
<circle cx="961.82" cy="354.60" r="3.0" fill="url(#sOrange)"/>
<circle cx="969.35" cy="351.80" r="3.0" fill="url(#sOrange)"/>
<circle cx="976.87" cy="348.70" r="3.0" fill="url(#sOrange)"/>
<circle cx="984.40" cy="345.40" r="3.0" fill="url(#sOrange)"/>
<path d="M761.57,486.36L763.12,485.14M767.14,479.14L772.61,459.66M774.59,452.32L780.21,430.58M782.24,423.25L787.62,404.95M790.08,397.76L794.83,385.64M798.36,378.96L801.60,374.24M806.57,368.55L808.45,366.85M814.23,361.91L815.85,360.59M821.98,356.13L823.14,355.37M829.74,351.62L830.44,351.28M837.33,348.07L837.90,347.83M844.96,345.02L845.33,344.88M852.42,342.15L852.92,341.95" stroke="#0a800a" stroke-width="2.1" fill="none"/>
<circle cx="736.00" cy="488.70" r="3.0" fill="url(#sGreen)"/>
<circle cx="743.53" cy="488.70" r="3.0" fill="url(#sGreen)"/>
<circle cx="751.05" cy="488.70" r="3.0" fill="url(#sGreen)"/>
<circle cx="758.58" cy="488.70" r="3.0" fill="url(#sGreen)"/>
<circle cx="766.11" cy="482.80" r="3.0" fill="url(#sGreen)"/>
<circle cx="773.64" cy="456.00" r="3.0" fill="url(#sGreen)"/>
<circle cx="781.16" cy="426.90" r="3.0" fill="url(#sGreen)"/>
<circle cx="788.69" cy="401.30" r="3.0" fill="url(#sGreen)"/>
<circle cx="796.22" cy="382.10" r="3.0" fill="url(#sGreen)"/>
<circle cx="803.75" cy="371.10" r="3.0" fill="url(#sGreen)"/>
<circle cx="811.27" cy="364.30" r="3.0" fill="url(#sGreen)"/>
<circle cx="818.80" cy="358.20" r="3.0" fill="url(#sGreen)"/>
<circle cx="826.33" cy="353.30" r="3.0" fill="url(#sGreen)"/>
<circle cx="833.85" cy="349.60" r="3.0" fill="url(#sGreen)"/>
<circle cx="841.38" cy="346.30" r="3.0" fill="url(#sGreen)"/>
<circle cx="848.91" cy="343.60" r="3.0" fill="url(#sGreen)"/>
<circle cx="856.44" cy="340.50" r="3.0" fill="url(#sGreen)"/>
<circle cx="863.96" cy="338.60" r="3.0" fill="url(#sGreen)"/>
<circle cx="871.49" cy="336.60" r="3.0" fill="url(#sGreen)"/>
<circle cx="879.02" cy="334.80" r="3.0" fill="url(#sGreen)"/>
<circle cx="886.55" cy="332.90" r="3.0" fill="url(#sGreen)"/>
<circle cx="894.07" cy="331.30" r="3.0" fill="url(#sGreen)"/>
<circle cx="901.60" cy="329.80" r="3.0" fill="url(#sGreen)"/>
<circle cx="909.13" cy="328.70" r="3.0" fill="url(#sGreen)"/>
<circle cx="916.65" cy="327.80" r="3.0" fill="url(#sGreen)"/>
<circle cx="924.18" cy="326.30" r="3.0" fill="url(#sGreen)"/>
<circle cx="931.71" cy="325.20" r="3.0" fill="url(#sGreen)"/>
<circle cx="939.24" cy="324.50" r="3.0" fill="url(#sGreen)"/>
<circle cx="946.76" cy="323.80" r="3.0" fill="url(#sGreen)"/>
<circle cx="954.29" cy="323.00" r="3.0" fill="url(#sGreen)"/>
<circle cx="961.82" cy="322.50" r="3.0" fill="url(#sGreen)"/>
<circle cx="969.35" cy="321.80" r="3.0" fill="url(#sGreen)"/>
<circle cx="976.87" cy="321.00" r="3.0" fill="url(#sGreen)"/>
<circle cx="984.40" cy="320.30" r="3.0" fill="url(#sGreen)"/>
</g>
<rect x="736.0" y="305.5" width="248.39999999999998" height="199.2" fill="none" stroke="#000" stroke-width="1.5"/>
<line x1="736.00" y1="504.70" x2="736.00" y2="510.20" stroke="#000" stroke-width="1.5" />
<line x1="760.84" y1="504.70" x2="760.84" y2="507.70" stroke="#000" stroke-width="1.5" />
<line x1="785.68" y1="504.70" x2="785.68" y2="510.20" stroke="#000" stroke-width="1.5" />
<line x1="810.52" y1="504.70" x2="810.52" y2="507.70" stroke="#000" stroke-width="1.5" />
<line x1="835.36" y1="504.70" x2="835.36" y2="510.20" stroke="#000" stroke-width="1.5" />
<line x1="860.20" y1="504.70" x2="860.20" y2="507.70" stroke="#000" stroke-width="1.5" />
<line x1="885.04" y1="504.70" x2="885.04" y2="510.20" stroke="#000" stroke-width="1.5" />
<line x1="909.88" y1="504.70" x2="909.88" y2="507.70" stroke="#000" stroke-width="1.5" />
<line x1="934.72" y1="504.70" x2="934.72" y2="510.20" stroke="#000" stroke-width="1.5" />
<line x1="959.56" y1="504.70" x2="959.56" y2="507.70" stroke="#000" stroke-width="1.5" />
<line x1="984.40" y1="504.70" x2="984.40" y2="510.20" stroke="#000" stroke-width="1.5" />
<text x="740.20" y="528.80" font-size="16.4" text-anchor="middle" font-weight="normal" fill="#000" >10</text>
<text x="784.00" y="528.80" font-size="16.4" text-anchor="middle" font-weight="normal" fill="#000" >0</text>
<text x="826.60" y="528.80" font-size="16.4" text-anchor="middle" font-weight="normal" fill="#000" >–10</text>
<text x="878.00" y="528.80" font-size="16.4" text-anchor="middle" font-weight="normal" fill="#000" >–20</text>
<text x="928.50" y="528.80" font-size="16.4" text-anchor="middle" font-weight="normal" fill="#000" >–30</text>
<text x="978.50" y="528.80" font-size="16.4" text-anchor="middle" font-weight="normal" fill="#000" >–40</text>
<line x1="730.80" y1="315.60" x2="736.00" y2="315.60" stroke="#000" stroke-width="1.8" />
<text x="695.30" y="324.30" font-size="16.5" text-anchor="start" font-weight="bold" fill="#000" >10<tspan font-size="10.5" dy="-4.6">–4</tspan><tspan dy="4.6" font-size="1">&#8203;</tspan></text>
<line x1="730.80" y1="350.00" x2="736.00" y2="350.00" stroke="#000" stroke-width="1.8" />
<text x="695.30" y="357.20" font-size="16.4" text-anchor="start" font-weight="normal" fill="#000" >10<tspan font-size="10.5" dy="-5.0">–5</tspan><tspan dy="5.0" font-size="1">&#8203;</tspan></text>
<line x1="730.80" y1="384.40" x2="736.00" y2="384.40" stroke="#000" stroke-width="1.8" />
<text x="695.30" y="390.10" font-size="16.4" text-anchor="start" font-weight="normal" fill="#000" >10<tspan font-size="10.5" dy="-5.0">–6</tspan><tspan dy="5.0" font-size="1">&#8203;</tspan></text>
<line x1="730.80" y1="418.80" x2="736.00" y2="418.80" stroke="#000" stroke-width="1.8" />
<text x="695.30" y="423.00" font-size="16.4" text-anchor="start" font-weight="normal" fill="#000" >10<tspan font-size="10.5" dy="-5.0">–7</tspan><tspan dy="5.0" font-size="1">&#8203;</tspan></text>
<line x1="730.80" y1="453.20" x2="736.00" y2="453.20" stroke="#000" stroke-width="1.8" />
<text x="695.30" y="455.90" font-size="16.4" text-anchor="start" font-weight="normal" fill="#000" >10<tspan font-size="10.5" dy="-5.0">–8</tspan><tspan dy="5.0" font-size="1">&#8203;</tspan></text>
<line x1="730.80" y1="487.60" x2="736.00" y2="487.60" stroke="#000" stroke-width="1.8" />
<text x="695.30" y="488.80" font-size="16.4" text-anchor="start" font-weight="normal" fill="#000" >10<tspan font-size="10.5" dy="-5.0">–9</tspan><tspan dy="5.0" font-size="1">&#8203;</tspan></text>
<line x1="733.40" y1="505.59" x2="736.00" y2="505.59" stroke="#000" stroke-width="1.3" />
<line x1="733.40" y1="501.29" x2="736.00" y2="501.29" stroke="#000" stroke-width="1.3" />
<line x1="733.40" y1="497.96" x2="736.00" y2="497.96" stroke="#000" stroke-width="1.3" />
<line x1="733.40" y1="495.23" x2="736.00" y2="495.23" stroke="#000" stroke-width="1.3" />
<line x1="733.40" y1="492.93" x2="736.00" y2="492.93" stroke="#000" stroke-width="1.3" />
<line x1="733.40" y1="490.93" x2="736.00" y2="490.93" stroke="#000" stroke-width="1.3" />
<line x1="733.40" y1="489.17" x2="736.00" y2="489.17" stroke="#000" stroke-width="1.3" />
<line x1="733.40" y1="477.24" x2="736.00" y2="477.24" stroke="#000" stroke-width="1.3" />
<line x1="733.40" y1="471.19" x2="736.00" y2="471.19" stroke="#000" stroke-width="1.3" />
<line x1="733.40" y1="466.89" x2="736.00" y2="466.89" stroke="#000" stroke-width="1.3" />
<line x1="733.40" y1="463.56" x2="736.00" y2="463.56" stroke="#000" stroke-width="1.3" />
<line x1="733.40" y1="460.83" x2="736.00" y2="460.83" stroke="#000" stroke-width="1.3" />
<line x1="733.40" y1="458.53" x2="736.00" y2="458.53" stroke="#000" stroke-width="1.3" />
<line x1="733.40" y1="456.53" x2="736.00" y2="456.53" stroke="#000" stroke-width="1.3" />
<line x1="733.40" y1="454.77" x2="736.00" y2="454.77" stroke="#000" stroke-width="1.3" />
<line x1="733.40" y1="442.84" x2="736.00" y2="442.84" stroke="#000" stroke-width="1.3" />
<line x1="733.40" y1="436.79" x2="736.00" y2="436.79" stroke="#000" stroke-width="1.3" />
<line x1="733.40" y1="432.49" x2="736.00" y2="432.49" stroke="#000" stroke-width="1.3" />
<line x1="733.40" y1="429.16" x2="736.00" y2="429.16" stroke="#000" stroke-width="1.3" />
<line x1="733.40" y1="426.43" x2="736.00" y2="426.43" stroke="#000" stroke-width="1.3" />
<line x1="733.40" y1="424.13" x2="736.00" y2="424.13" stroke="#000" stroke-width="1.3" />
<line x1="733.40" y1="422.13" x2="736.00" y2="422.13" stroke="#000" stroke-width="1.3" />
<line x1="733.40" y1="420.37" x2="736.00" y2="420.37" stroke="#000" stroke-width="1.3" />
<line x1="733.40" y1="408.44" x2="736.00" y2="408.44" stroke="#000" stroke-width="1.3" />
<line x1="733.40" y1="402.39" x2="736.00" y2="402.39" stroke="#000" stroke-width="1.3" />
<line x1="733.40" y1="398.09" x2="736.00" y2="398.09" stroke="#000" stroke-width="1.3" />
<line x1="733.40" y1="394.76" x2="736.00" y2="394.76" stroke="#000" stroke-width="1.3" />
<line x1="733.40" y1="392.03" x2="736.00" y2="392.03" stroke="#000" stroke-width="1.3" />
<line x1="733.40" y1="389.73" x2="736.00" y2="389.73" stroke="#000" stroke-width="1.3" />
<line x1="733.40" y1="387.73" x2="736.00" y2="387.73" stroke="#000" stroke-width="1.3" />
<line x1="733.40" y1="385.97" x2="736.00" y2="385.97" stroke="#000" stroke-width="1.3" />
<line x1="733.40" y1="374.04" x2="736.00" y2="374.04" stroke="#000" stroke-width="1.3" />
<line x1="733.40" y1="367.99" x2="736.00" y2="367.99" stroke="#000" stroke-width="1.3" />
<line x1="733.40" y1="363.69" x2="736.00" y2="363.69" stroke="#000" stroke-width="1.3" />
<line x1="733.40" y1="360.36" x2="736.00" y2="360.36" stroke="#000" stroke-width="1.3" />
<line x1="733.40" y1="357.63" x2="736.00" y2="357.63" stroke="#000" stroke-width="1.3" />
<line x1="733.40" y1="355.33" x2="736.00" y2="355.33" stroke="#000" stroke-width="1.3" />
<line x1="733.40" y1="353.33" x2="736.00" y2="353.33" stroke="#000" stroke-width="1.3" />
<line x1="733.40" y1="351.57" x2="736.00" y2="351.57" stroke="#000" stroke-width="1.3" />
<line x1="733.40" y1="339.64" x2="736.00" y2="339.64" stroke="#000" stroke-width="1.3" />
<line x1="733.40" y1="333.59" x2="736.00" y2="333.59" stroke="#000" stroke-width="1.3" />
<line x1="733.40" y1="329.29" x2="736.00" y2="329.29" stroke="#000" stroke-width="1.3" />
<line x1="733.40" y1="325.96" x2="736.00" y2="325.96" stroke="#000" stroke-width="1.3" />
<line x1="733.40" y1="323.23" x2="736.00" y2="323.23" stroke="#000" stroke-width="1.3" />
<line x1="733.40" y1="320.93" x2="736.00" y2="320.93" stroke="#000" stroke-width="1.3" />
<line x1="733.40" y1="318.93" x2="736.00" y2="318.93" stroke="#000" stroke-width="1.3" />
<line x1="733.40" y1="317.17" x2="736.00" y2="317.17" stroke="#000" stroke-width="1.3" />
<line x1="733.40" y1="305.24" x2="736.00" y2="305.24" stroke="#000" stroke-width="1.3" />
<line x1="984.40" y1="501.00" x2="989.00" y2="501.00" stroke="#000" stroke-width="1.5" />
<line x1="984.40" y1="482.50" x2="986.90" y2="482.50" stroke="#000" stroke-width="1.5" />
<text x="994.20" y="508.10" font-size="16.4" text-anchor="start" font-weight="normal" fill="#000" >0</text>
<line x1="984.40" y1="464.00" x2="989.00" y2="464.00" stroke="#000" stroke-width="1.5" />
<line x1="984.40" y1="445.50" x2="986.90" y2="445.50" stroke="#000" stroke-width="1.5" />
<text x="993.00" y="471.10" font-size="16.4" text-anchor="start" font-weight="normal" fill="#000" >2.0<tspan dx="0.4">×</tspan><tspan dx="0.4">10</tspan><tspan font-size="12" dy="-4.3">–3</tspan><tspan dy="4.3" font-size="1">&#8203;</tspan></text>
<line x1="984.40" y1="427.00" x2="989.00" y2="427.00" stroke="#000" stroke-width="1.5" />
<line x1="984.40" y1="408.50" x2="986.90" y2="408.50" stroke="#000" stroke-width="1.5" />
<text x="993.00" y="434.10" font-size="16.4" text-anchor="start" font-weight="normal" fill="#000" >4.0<tspan dx="0.4">×</tspan><tspan dx="0.4">10</tspan><tspan font-size="12" dy="-4.3">–3</tspan><tspan dy="4.3" font-size="1">&#8203;</tspan></text>
<line x1="984.40" y1="390.00" x2="989.00" y2="390.00" stroke="#000" stroke-width="1.5" />
<line x1="984.40" y1="371.50" x2="986.90" y2="371.50" stroke="#000" stroke-width="1.5" />
<text x="993.00" y="397.10" font-size="16.4" text-anchor="start" font-weight="normal" fill="#000" >6.0<tspan dx="0.4">×</tspan><tspan dx="0.4">10</tspan><tspan font-size="12" dy="-4.3">–3</tspan><tspan dy="4.3" font-size="1">&#8203;</tspan></text>
<line x1="984.40" y1="353.00" x2="989.00" y2="353.00" stroke="#000" stroke-width="1.5" />
<line x1="984.40" y1="334.50" x2="986.90" y2="334.50" stroke="#000" stroke-width="1.5" />
<text x="993.00" y="360.10" font-size="16.4" text-anchor="start" font-weight="normal" fill="#000" >8.0<tspan dx="0.4">×</tspan><tspan dx="0.4">10</tspan><tspan font-size="12" dy="-4.3">–3</tspan><tspan dy="4.3" font-size="1">&#8203;</tspan></text>
<line x1="984.40" y1="316.00" x2="989.00" y2="316.00" stroke="#000" stroke-width="1.5" />
<text x="993.00" y="323.10" font-size="16.5" text-anchor="start" font-weight="bold" fill="#000" >1.0<tspan dx="0.4">×</tspan><tspan dx="0.4">10</tspan><tspan font-size="12" dy="-4.3">–2</tspan><tspan dy="4.3" font-size="1">&#8203;</tspan></text>
<text x="858.60" y="550.10" font-size="16.5" text-anchor="middle" font-weight="normal" fill="#000" >V<tspan font-size="10.5" dy="3.2">G</tspan><tspan dy="-3.2" font-size="1">&#8203;</tspan> (V)</text>
<text transform="translate(686.8,402.6) rotate(-90)" font-size="16.5" text-anchor="middle">–I<tspan font-size="10.5" dy="3.2">DS</tspan><tspan dy="-3.2" font-size="1">&#8203;</tspan> (A)</text>
<text transform="translate(1076.3,397.8) rotate(-90)" font-size="16.5" text-anchor="middle">(–I<tspan font-size="10.5" dy="3.2">DS</tspan><tspan dy="-3.2" font-size="1">&#8203;</tspan>)<tspan font-size="10.5" dy="-4.2">1/2</tspan><tspan dy="4.2" font-size="1">&#8203;</tspan> (A)<tspan font-size="10.5" dy="-4.2">1/2</tspan><tspan dy="4.2" font-size="1">&#8203;</tspan></text>
<text x="785.50" y="333.10" font-size="16.5" text-anchor="middle" font-weight="bold" fill="#000" >1Py-1Py</text>
<text x="737.60" y="351.30" font-size="16.5" text-anchor="start" font-weight="normal" fill="#000" >V<tspan font-size="10.5" dy="3.2">DS</tspan><tspan dy="-3.2" font-size="1">&#8203;</tspan> <tspan dx="0.8">=</tspan> <tspan dx="0.8">–40 V</tspan></text>
<line x1="757.60" y1="401.00" x2="787.70" y2="401.00" stroke="#000" stroke-width="1.3" />
<polygon points="752.6,401.0 759.4,397.7 759.4,404.3" fill="#000"/>
<line x1="884.40" y1="401.00" x2="915.60" y2="401.00" stroke="#000" stroke-width="1.3" />
<polygon points="920.6,401.0 913.8000000000001,397.7 913.8000000000001,404.3" fill="#000"/>
</svg>
</body></html>
